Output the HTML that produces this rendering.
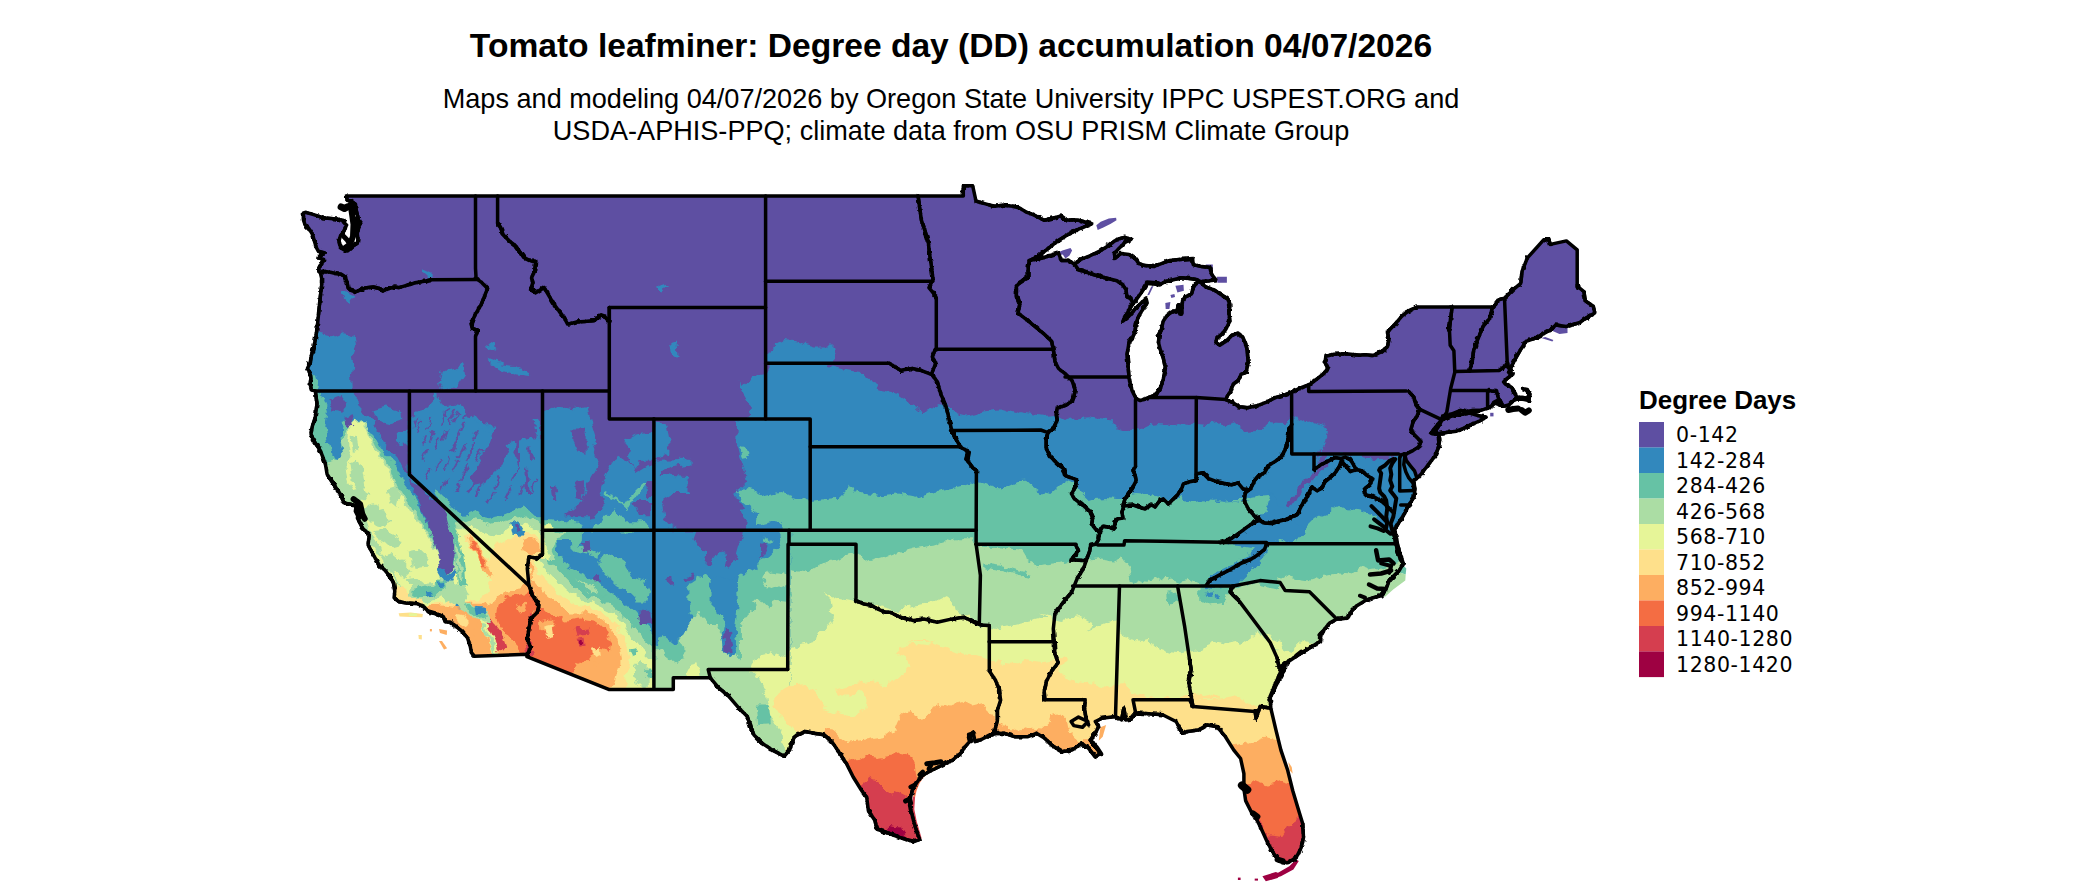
<!DOCTYPE html>
<html><head><meta charset="utf-8"><title>Tomato leafminer DD map</title>
<style>
html,body{margin:0;padding:0;background:#fff}
body{width:2100px;height:892px;overflow:hidden}
svg{display:block}
.t{font-family:"Liberation Sans",sans-serif;fill:#000}
.l{font-family:"DejaVu Sans",sans-serif;fill:#000}
.b{fill:none;stroke:#000;stroke-width:3.5;stroke-linejoin:round;stroke-linecap:round}
</style></head><body>
<svg width="2100" height="892" viewBox="0 0 2100 892">
<rect width="2100" height="892" fill="#fff"/>
<defs><clipPath id="land"><path d="M346.5 196.0 L963.3 195.9 L963.3 185.8 L972.7 185.8 L976.0 201.0 L984.5 203.6 L994.6 206.3 L1003.0 205.3 L1013.1 206.3 L1020.0 208.1 L1026.1 212.1 L1032.1 214.1 L1038.2 217.2 L1044.2 220.2 L1052.3 218.2 L1060.4 216.1 L1065.4 219.8 L1078.5 220.2 L1091.7 223.8 L1080.6 228.3 L1068.4 234.3 L1058.4 240.4 L1048.3 248.4 L1038.2 256.5 L1029.1 260.6 L1040.2 258.5 L1050.3 255.5 L1058.4 252.9 L1061.4 260.6 L1068.4 260.2 L1074.5 264.2 L1080.6 259.5 L1090.6 255.5 L1100.7 250.5 L1108.8 245.4 L1116.9 239.4 L1125.0 237.3 L1131.0 239.4 L1125.0 242.4 L1118.9 248.4 L1114.5 253.5 L1114.9 258.5 L1120.9 253.5 L1129.0 254.5 L1135.1 258.5 L1139.1 263.6 L1145.1 265.6 L1153.2 266.6 L1161.3 263.6 L1169.4 260.6 L1179.5 259.5 L1192.6 258.5 L1193.2 264.6 L1201.7 266.6 L1209.7 267.6 L1211.8 274.7 L1215.8 279.7 L1209.7 280.7 L1199.6 281.7 L1197.6 279.7 L1191.6 278.7 L1181.5 277.7 L1173.4 279.7 L1165.3 281.7 L1159.3 284.8 L1157.3 282.8 L1151.2 282.8 L1147.2 282.8 L1145.1 286.8 L1141.1 292.9 L1136.1 299.9 L1132.0 305.0 L1129.0 310.0 L1125.0 317.1 L1122.9 321.1 L1129.0 316.1 L1135.1 309.0 L1141.1 302.9 L1146.2 298.9 L1147.2 302.9 L1143.1 309.0 L1139.1 315.1 L1136.1 323.1 L1135.1 331.2 L1132.0 339.3 L1129.1 342.1 L1127.1 354.2 L1128.1 366.3 L1129.1 378.4 L1132.1 390.6 L1136.1 398.6 L1140.2 400.6 L1148.3 397.6 L1156.3 394.6 L1160.4 388.5 L1163.4 378.4 L1165.4 368.4 L1163.4 358.3 L1160.4 350.2 L1158.4 342.1 L1159.4 334.0 L1161.4 330.0 L1158.3 335.2 L1161.3 329.2 L1163.3 321.1 L1167.4 315.1 L1173.4 311.0 L1176.4 312.0 L1178.5 305.0 L1181.5 313.0 L1182.5 300.9 L1185.5 296.9 L1191.6 293.9 L1193.6 286.8 L1198.6 280.7 L1205.7 286.8 L1213.8 289.8 L1221.9 294.9 L1227.9 298.9 L1229.9 305.0 L1228.9 313.0 L1229.9 321.1 L1225.9 329.2 L1221.9 334.2 L1216.8 338.3 L1215.8 342.3 L1219.8 345.3 L1225.9 341.3 L1231.9 335.2 L1238.0 333.2 L1243.0 337.3 L1246.1 345.3 L1247.2 350.2 L1248.2 362.3 L1246.2 372.4 L1241.1 374.4 L1238.1 380.5 L1233.0 384.5 L1231.0 390.6 L1227.0 396.6 L1226.0 399.6 L1233.0 402.7 L1239.1 406.7 L1247.2 407.7 L1257.3 405.7 L1265.3 402.7 L1275.4 397.6 L1285.5 394.6 L1291.6 392.2 L1301.7 387.5 L1309.7 384.5 L1317.8 378.4 L1323.9 373.4 L1327.9 368.4 L1324.9 362.3 L1325.9 356.2 L1334.0 354.2 L1346.1 353.8 L1360.0 355.2 L1364.6 354.8 L1372.7 355.6 L1380.7 352.1 L1387.5 346.7 L1388.8 339.9 L1387.5 331.9 L1394.2 325.1 L1402.3 315.7 L1410.3 309.8 L1417.1 307.1 L1493.8 307.1 L1497.8 300.1 L1504.5 298.2 L1512.6 290.2 L1520.7 283.4 L1522.0 271.3 L1527.4 257.9 L1543.6 239.8 L1548.9 239.8 L1550.3 244.4 L1566.4 240.9 L1577.2 249.8 L1577.2 286.1 L1583.9 291.5 L1585.3 300.9 L1593.4 306.3 L1594.7 313.0 L1585.3 318.4 L1579.9 322.5 L1566.4 326.5 L1555.7 325.1 L1551.6 329.2 L1542.2 334.6 L1534.1 338.6 L1526.1 341.3 L1520.7 349.4 L1515.3 358.8 L1511.3 366.9 L1508.6 372.2 L1513.0 374.0 L1507.7 378.1 L1503.6 382.1 L1506.3 384.8 L1511.7 387.5 L1514.4 392.9 L1517.1 397.6 L1521.1 397.3 L1527.8 398.7 L1528.9 394.2 L1526.5 390.2 L1522.7 388.6 L1527.2 389.5 L1529.9 394.2 L1528.9 399.9 L1521.1 398.9 L1517.3 398.9 L1513.0 401.0 L1509.0 405.0 L1503.6 406.3 L1499.6 404.3 L1496.9 402.3 L1494.2 403.6 L1489.5 407.7 L1480.7 410.4 L1472.7 410.4 L1464.6 411.7 L1460.6 410.4 L1453.8 413.1 L1447.1 415.8 L1443.1 417.1 L1440.4 421.1 L1435.0 427.9 L1431.0 433.2 L1439.0 434.6 L1439.7 440.0 L1438.4 448.0 L1435.0 456.1 L1429.6 462.9 L1425.6 468.2 L1421.5 473.6 L1417.5 477.7 L1413.9 480.9 L1414.9 490.0 L1413.9 497.1 L1408.8 505.1 L1404.8 513.2 L1399.7 521.3 L1394.7 529.4 L1393.7 533.4 L1395.7 542.5 L1397.7 551.6 L1400.7 560.1 L1395.2 532.1 L1397.3 544.2 L1400.3 554.3 L1403.3 563.4 L1399.3 570.5 L1393.2 576.5 L1389.2 580.6 L1386.2 588.6 L1381.1 595.7 L1373.0 597.7 L1365.0 600.7 L1356.9 605.8 L1351.8 610.8 L1347.8 617.9 L1340.7 618.9 L1336.7 618.9 L1329.6 622.9 L1324.6 629.0 L1320.6 635.1 L1320.6 641.1 L1312.5 646.2 L1304.4 651.2 L1296.3 656.2 L1290.3 660.3 L1285.2 663.3 L1284.2 670.4 L1280.2 677.4 L1276.1 685.5 L1272.1 693.6 L1269.1 700.1 L1280.9 671.1 L1275.9 682.8 L1270.2 696.3 L1270.8 708.1 L1275.9 729.9 L1280.9 750.1 L1287.7 770.3 L1292.7 790.5 L1297.7 807.3 L1302.8 824.1 L1303.5 837.6 L1301.1 847.7 L1296.1 857.8 L1287.7 862.8 L1279.2 861.1 L1274.2 854.4 L1267.5 842.6 L1260.7 827.5 L1254.7 815.7 L1252.3 814.0 L1245.6 800.6 L1243.9 788.8 L1243.9 773.7 L1240.6 758.5 L1233.8 750.1 L1225.4 736.7 L1217.0 726.6 L1206.9 724.9 L1198.5 729.9 L1186.7 731.6 L1182.8 733.3 L1176.0 721.5 L1162.6 714.8 L1149.1 713.8 L1135.7 713.1 L1130.6 719.2 L1125.6 719.8 L1123.9 708.1 L1121.5 719.8 L1115.5 716.5 L1102.0 718.2 L1095.3 721.5 L1098.7 726.6 L1095.3 733.3 L1090.3 740.0 L1095.3 746.8 L1100.4 753.5 L1095.3 756.8 L1088.6 748.4 L1081.9 743.4 L1071.8 750.1 L1061.7 751.8 L1051.6 745.1 L1044.8 738.3 L1036.4 733.3 L1028.0 736.7 L1014.6 736.7 L1004.5 733.3 L995.4 733.5 L989.4 735.5 L981.3 739.5 L975.2 741.6 L973.2 732.9 L968.6 734.5 L969.6 741.6 L965.1 746.6 L961.1 752.7 L953.0 759.7 L945.0 763.8 L938.9 766.8 L932.9 769.8 L926.8 772.9 L920.7 776.9 L916.7 782.9 L912.7 789.0 L910.6 797.1 L909.6 805.1 L911.7 813.2 L913.7 821.3 L916.7 831.4 L919.7 839.5 L914.7 841.5 L906.6 839.5 L900.0 837.6 L886.9 832.5 L876.8 829.2 L875.1 820.8 L868.4 810.7 L866.7 797.2 L861.6 790.5 L853.2 777.0 L846.5 763.6 L839.8 753.5 L833.1 743.4 L824.6 735.0 L814.6 733.3 L804.5 731.6 L794.4 736.7 L789.3 750.1 L784.3 756.2 L772.5 750.1 L762.4 743.4 L754.0 735.0 L750.6 726.6 L747.3 716.5 L738.9 708.1 L728.8 696.3 L718.7 687.9 L710.3 677.8 L673.3 677.8 L673.3 689.6 L654.1 689.6 L609.3 689.6 L526.9 656.6 L527.3 654.3 L474.2 656.2 L471.5 652.9 L470.2 646.1 L467.5 638.0 L462.1 631.3 L455.4 625.9 L450.0 621.9 L445.3 621.9 L443.2 616.5 L437.9 614.5 L428.4 611.8 L424.4 607.1 L417.7 603.7 L406.9 603.1 L398.8 601.7 L394.1 597.7 L394.8 591.0 L393.5 582.9 L390.8 577.5 L385.4 570.8 L379.2 565.1 L372.5 553.3 L368.1 544.9 L369.2 534.8 L362.4 528.1 L357.4 518.0 L359.1 507.9 L352.3 504.6 L343.9 502.9 L340.6 494.5 L333.8 484.4 L327.1 474.3 L325.4 464.2 L320.4 450.7 L313.6 440.6 L311.0 433.9 L312.0 427.2 L315.3 417.1 L317.0 403.6 L315.3 390.9 L311.5 390.0 L310.2 384.4 L310.9 377.7 L309.5 372.3 L307.5 368.2 L310.2 362.9 L311.5 354.8 L314.2 345.4 L316.2 334.6 L317.6 323.8 L318.9 310.4 L320.3 296.9 L321.6 286.1 L321.6 278.1 L320.3 272.7 L318.9 271.5 L318.9 267.5 L321.6 263.4 L323.6 259.4 L318.9 258.0 L320.3 255.4 L324.3 252.7 L318.3 251.3 L316.2 247.3 L314.2 240.6 L312.2 233.8 L308.8 228.4 L304.8 224.4 L303.5 219.0 L303.5 213.0 L306.1 212.3 L310.2 213.6 L316.9 215.7 L322.3 217.7 L330.4 218.4 L338.4 219.3 L342.5 220.4 L344.5 223.1 L346.5 225.1 L345.2 228.4 L343.2 232.5 L340.5 235.8 L339.1 240.6 L339.8 244.6 L341.8 248.6 L345.2 250.6 L349.2 249.3 L353.2 245.9 L357.3 243.2 L358.0 239.2 L357.3 233.8 L358.6 227.1 L360.6 223.3 L358.6 220.4 L357.3 215.0 L355.9 208.9 L355.3 204.2 L351.9 201.5 L347.2 200.2 L346.5 195.9Z M1443.3 418.7 L1451.1 416.4 L1460.6 414.4 L1470.0 413.1 L1475.4 414.8 L1480.7 416.2 L1486.1 417.1 L1480.7 420.5 L1472.7 423.8 L1464.6 427.9 L1456.5 431.2 L1448.4 432.2 L1440.4 433.2 L1433.0 433.8 L1437.7 427.9 L1441.0 421.8Z"/></clipPath><filter id="rough" x="0" y="0" width="2100" height="892" filterUnits="userSpaceOnUse" color-interpolation-filters="sRGB"><feTurbulence type="fractalNoise" baseFrequency="0.11" numOctaves="3" seed="7" result="n"/><feDisplacementMap in="SourceGraphic" in2="n" scale="9" xChannelSelector="R" yChannelSelector="G"/></filter><filter id="rough2" x="0" y="0" width="2100" height="892" filterUnits="userSpaceOnUse"><feTurbulence type="fractalNoise" baseFrequency="0.22" numOctaves="2" seed="3" result="n"/><feDisplacementMap in="SourceGraphic" in2="n" scale="5" xChannelSelector="R" yChannelSelector="G"/></filter></defs>
<g clip-path="url(#land)"><g filter="url(#rough)">
<rect x="250" y="150" width="1400" height="760" fill="#5E4FA2"/>
<path d="M738.9 388.7 L752.3 376.9 L766.5 375.2 L766.5 358.4 L774.2 344.9 L784.3 339.9 L797.7 341.6 L814.6 346.6 L833.1 346.6 L835.4 358.4 L828.0 365.8 L841.5 369.2 L858.3 371.9 L871.8 380.3 L878.5 390.4 L895.3 393.7 L908.8 402.1 L922.2 412.2 L934.0 407.2 L945.8 402.1 L952.5 412.2 L966.0 415.6 L982.8 411.5 L999.6 409.5 L1016.4 413.9 L1020.0 412.1 L1032.1 414.1 L1044.2 416.1 L1056.3 415.1 L1066.4 420.2 L1076.5 418.2 L1088.6 417.2 L1100.7 419.2 L1110.8 420.2 L1116.9 427.2 L1127.0 430.3 L1135.5 428.3 L1135.1 427.9 L1144.2 428.9 L1152.3 424.9 L1160.4 423.9 L1170.5 424.9 L1178.5 422.9 L1186.6 424.9 L1196.3 423.9 L1206.8 424.9 L1216.9 422.9 L1225.0 425.9 L1235.1 422.9 L1241.1 426.9 L1245.1 431.9 L1257.3 430.9 L1265.3 426.9 L1269.4 422.9 L1281.5 423.9 L1287.5 418.8 L1291.6 416.8 L1297.6 418.8 L1305.7 422.9 L1313.8 421.8 L1321.9 424.9 L1327.9 430.9 L1325.9 443.0 L1319.8 451.1 L1315.8 457.2 L1321.1 454.1 L1357.4 454.1 L1361.5 458.5 L1373.6 459.5 L1387.7 458.5 L1398.8 454.5 L1405.9 458.5 L1409.9 468.6 L1414.0 476.7 L1432.1 476.7 L1620.0 480.0 L1620.0 900.0 L780.0 900.0 L781.5 560.1 L773.4 547.5 L761.3 541.5 L749.2 539.5 L746.2 530.4 L745.1 521.3 L741.1 511.2 L745.1 509.2 L741.1 501.1 L733.0 493.0 L741.1 487.0 L747.2 480.9 L744.1 468.8 L740.1 456.7 L736.1 440.6 L737.1 423.4 L747.2 418.4 L751.2 414.3 L749.2 406.2 L741.1 392.1 L739.1 380.0Z" fill="#3288BD"/>
<path d="M737.1 490.0 L749.2 489.0 L757.3 491.0 L761.3 497.1 L769.4 495.1 L781.5 493.0 L793.6 497.1 L810.1 501.1 L821.3 499.5 L838.1 497.8 L848.2 487.7 L858.3 492.8 L881.9 496.2 L898.7 494.5 L915.5 497.8 L932.3 492.8 L949.1 489.4 L966.0 486.1 L976.7 482.7 L989.5 486.1 L1003.0 489.4 L1019.8 481.0 L1026.1 480.7 L1030.1 484.8 L1040.2 491.8 L1050.3 493.9 L1056.3 488.8 L1060.4 484.8 L1068.4 480.7 L1078.5 484.8 L1080.6 492.9 L1088.6 500.9 L1094.7 498.9 L1104.8 497.9 L1114.9 498.9 L1122.9 498.9 L1129.0 494.9 L1137.1 493.9 L1149.2 494.9 L1161.3 496.9 L1169.4 500.9 L1177.4 499.9 L1181.5 496.9 L1187.5 501.9 L1195.6 504.0 L1205.7 500.9 L1217.8 501.9 L1231.9 500.9 L1244.1 502.9 L1250.1 498.9 L1260.0 498.9 L1210.1 500.9 L1220.2 499.9 L1230.3 500.9 L1240.4 502.9 L1246.4 496.9 L1256.5 494.9 L1266.6 493.9 L1280.7 513.0 L1296.9 529.2 L1300.9 533.2 L1307.0 525.1 L1313.0 519.1 L1321.1 515.1 L1329.2 512.0 L1337.3 505.0 L1345.3 509.0 L1357.4 510.0 L1369.6 513.0 L1375.6 517.1 L1381.7 529.2 L1391.8 534.2 L1401.9 529.2 L1620.0 560.0 L1620.0 900.0 L790.0 900.0 L781.5 560.1 L773.4 549.6 L765.3 541.5 L761.3 530.4 L757.3 525.3 L759.3 513.2 L753.2 509.2 L743.1 501.1 L737.1 490.0Z" fill="#66C2A5"/>
<path d="M1268.6 490.8 L1269.6 500.9 L1264.6 511.0 L1260.6 517.1 L1254.5 521.1 L1244.4 529.2 L1234.3 537.3 L1220.2 542.3 L1221.7 541.2 L1229.7 545.2 L1241.9 546.2 L1254.0 548.3 L1245.9 556.3 L1233.8 563.4 L1221.7 569.5 L1211.6 575.5 L1206.5 580.6 L1204.5 587.6 L1211.6 589.6 L1221.7 587.6 L1227.7 586.6 L1241.9 580.6 L1251.9 570.5 L1262.0 560.4 L1268.1 548.3 L1274.1 542.2 L1280.0 540.2 L1284.8 543.7 L1296.9 541.3 L1305.0 532.2 L1300.9 526.2 L1284.8 510.0Z" fill="#3288BD"/>
<path d="M1286.4 505.4 L1295.3 489.8 L1307.4 477.7 L1319.5 467.6 L1329.6 458.9 L1332.8 460.6 L1324.1 469.6 L1313.0 479.7 L1301.9 490.8 L1293.3 502.9 L1288.8 507.4Z" fill="#5E4FA2"/>
<path d="M1321.1 454.1 L1329.2 454.1 L1323.1 460.6 L1317.1 464.6Z" fill="#5E4FA2"/>
<path d="M788.3 568.5 L807.8 571.9 L821.3 563.4 L838.1 558.4 L855.6 553.3 L868.4 561.8 L885.2 556.7 L898.7 551.7 L915.5 548.3 L935.7 544.9 L955.9 538.2 L972.7 538.2 L978.2 546.4 L1000.4 548.4 L1020.6 550.5 L1026.6 560.6 L1036.7 566.6 L1044.8 564.6 L1060.9 562.6 L1073.0 560.6 L1081.1 562.6 L1089.2 560.6 L1101.3 558.5 L1113.4 560.6 L1121.5 556.5 L1129.6 566.6 L1131.6 580.7 L1141.7 584.8 L1149.0 578.5 L1157.1 576.5 L1163.1 580.6 L1171.2 578.5 L1181.3 582.6 L1191.4 580.6 L1199.5 584.6 L1199.5 600.7 L1207.5 604.8 L1221.7 602.8 L1227.7 596.7 L1229.7 589.6 L1249.9 582.6 L1262.0 585.6 L1272.1 587.6 L1280.0 588.6 L1280.2 578.5 L1286.2 575.5 L1296.3 578.5 L1310.5 580.6 L1320.6 577.5 L1330.6 575.5 L1340.7 573.5 L1350.8 574.5 L1360.9 567.4 L1369.0 570.5 L1381.1 568.4 L1401.3 560.4 L1413.4 560.4 L1620.0 600.0 L1620.0 900.0 L700.0 900.0 L700.0 640.0 L788.0 640.0Z" fill="#ABDDA4"/>
<path d="M1199.5 589.6 L1207.5 588.6 L1221.7 589.6 L1228.7 590.6 L1226.7 597.7 L1221.7 602.8 L1207.5 604.8 L1199.5 600.7Z" fill="#66C2A5"/>
<path d="M1205.5 592.7 L1211.6 592.3 L1212.6 596.7 L1206.5 597.1Z" fill="#3288BD"/>
<path d="M1215.6 594.7 L1220.7 594.3 L1221.1 598.3 L1216.0 598.7Z" fill="#3288BD"/>
<path d="M1167.2 592.7 L1177.3 590.6 L1179.3 600.7 L1171.2 604.8 L1168.2 600.7Z" fill="#66C2A5"/>
<path d="M984.2 562.6 L1000.4 564.6 L1016.5 569.6 L1030.6 573.7 L1028.6 576.7 L1014.5 573.7 L998.4 569.6 L984.2 567.6Z" fill="#66C2A5"/>
<path d="M745.0 700.1 L749.0 673.4 L753.0 661.3 L761.1 655.2 L769.2 653.2 L781.3 657.3 L790.4 651.2 L801.5 645.1 L815.6 641.1 L817.6 633.0 L829.7 625.0 L833.8 616.9 L831.8 600.7 L823.7 592.7 L838.1 598.8 L854.9 602.1 L875.1 605.5 L895.3 610.5 L915.5 605.5 L935.7 602.1 L949.1 595.4 L952.5 605.5 L972.7 620.6 L982.8 629.0 L980.9 625.6 L994.4 629.0 L1007.8 625.6 L1021.3 622.3 L1034.8 618.9 L1048.2 615.5 L1040.0 611.8 L1048.1 612.9 L1052.1 618.9 L1060.2 620.9 L1070.3 618.9 L1080.4 616.9 L1088.4 620.9 L1092.5 627.0 L1086.4 631.0 L1096.5 627.0 L1106.6 622.9 L1117.7 620.9 L1120.7 633.0 L1130.8 639.1 L1140.9 641.1 L1149.0 639.1 L1153.0 645.1 L1161.1 649.2 L1169.2 652.2 L1181.3 653.2 L1189.4 651.2 L1197.4 649.2 L1207.5 645.1 L1217.6 641.1 L1227.7 643.1 L1237.8 641.1 L1241.9 645.1 L1249.9 639.1 L1258.0 633.0 L1262.0 636.1 L1270.1 641.1 L1274.1 649.2 L1280.0 651.2 L1260.0 629.0 L1268.1 635.1 L1280.2 641.1 L1284.2 649.2 L1292.3 653.2 L1297.3 645.1 L1306.4 639.1 L1310.5 645.1 L1326.6 633.0 L1340.7 629.0 L1620.0 640.0 L1620.0 900.0 L700.0 900.0Z" fill="#E6F598"/>
<path d="M797.7 733.9 L792.7 728.8 L786.6 720.7 L778.5 714.7 L772.5 704.6 L780.6 690.5 L790.6 684.4 L804.8 683.4 L808.8 690.5 L816.9 690.5 L820.9 700.6 L825.0 708.6 L833.0 712.7 L841.1 714.7 L853.2 716.7 L865.3 708.6 L867.4 696.5 L859.3 690.5 L849.2 696.5 L841.1 696.5 L835.1 690.5 L845.1 686.4 L861.3 682.4 L873.4 680.4 L885.5 686.4 L891.6 680.4 L901.7 676.3 L909.7 666.2 L905.7 658.2 L895.6 652.1 L901.7 646.1 L913.8 644.0 L925.9 646.1 L934.0 640.0 L906.9 642.5 L923.7 639.1 L940.6 645.8 L957.4 652.6 L974.2 655.9 L989.3 659.3 L1001.1 662.6 L1014.6 664.3 L1028.0 659.3 L1040.0 662.3 L1050.1 661.3 L1060.2 659.3 L1066.2 657.3 L1060.2 673.4 L1070.3 679.5 L1080.4 681.5 L1092.5 683.5 L1106.6 687.5 L1116.7 685.5 L1124.8 683.5 L1128.8 689.6 L1136.9 695.6 L1153.0 697.6 L1169.2 698.6 L1181.3 696.6 L1190.4 693.6 L1201.5 695.6 L1211.6 693.6 L1221.7 697.6 L1192.9 699.7 L1209.7 699.7 L1233.2 696.3 L1240.6 699.7 L1257.4 706.4 L1270.8 703.0 L1314.6 703.0 L1620.0 700.0 L1620.0 900.0 L780.0 900.0Z" fill="#FEE08B"/>
<path d="M822.9 733.9 L822.9 728.8 L833.0 730.8 L841.1 736.9 L849.2 742.9 L861.3 740.9 L873.4 738.9 L885.5 736.9 L893.6 730.8 L897.6 720.7 L901.7 714.7 L909.7 710.6 L913.8 716.7 L921.9 718.7 L929.9 714.7 L934.0 706.6 L942.0 704.6 L952.1 706.6 L960.0 704.6 L965.1 702.2 L973.2 706.2 L981.3 704.2 L989.4 710.3 L995.4 720.4 L1001.5 726.4 L1013.6 727.4 L1021.7 730.5 L1029.7 727.4 L1041.9 728.4 L1049.9 720.4 L1051.9 714.3 L1060.0 712.3 L1068.1 720.4 L1070.1 732.5 L1080.0 740.6 L1088.6 740.0 L1102.0 750.1 L1115.5 750.1 L1182.8 750.1 L1216.4 750.1 L1243.3 741.7 L1247.3 743.4 L1264.1 736.7 L1280.9 740.0 L1314.6 740.0 L1620.0 760.0 L1620.0 900.0 L830.0 900.0Z" fill="#FDAE61"/>
<path d="M845.1 763.1 L847.2 761.1 L857.3 759.1 L865.3 755.1 L877.4 757.1 L889.6 755.1 L901.7 753.0 L909.7 755.1 L913.8 765.1 L915.8 777.3 L923.9 785.3 L942.0 781.3 L980.9 780.4 L1182.8 793.9 L1243.3 785.4 L1242.2 783.8 L1254.0 780.4 L1267.5 785.4 L1280.9 780.4 L1292.7 783.8 L1321.3 783.8 L1620.0 800.0 L1620.0 900.0 L830.0 900.0Z" fill="#F46D43"/>
<path d="M859.3 786.3 L861.3 785.3 L869.4 779.3 L877.4 781.3 L885.5 789.4 L891.6 795.4 L897.6 793.4 L905.7 797.4 L911.8 801.5 L931.9 801.5 L980.9 827.5 L1182.8 840.9 L1233.2 824.1 L1255.7 819.1 L1260.7 822.4 L1268.5 835.2 L1282.3 836.9 L1292.4 821.8 L1299.4 816.7 L1321.3 814.0 L1620.0 850.0 L1620.0 900.0 L830.0 900.0Z" fill="#D53E4F"/>
<path d="M886.7 825.8 L900.2 827.5 L903.5 837.6 L890.1 837.6Z" fill="#9E0142"/>
<path d="M1230.5 874.6 L1321.3 861.1 L1321.3 892.1 L1230.5 892.1Z" fill="#9E0142"/>
<path d="M316.9 333.2 L322.3 334.6 L334.4 337.3 L343.8 333.2 L354.6 335.9 L355.9 345.4 L351.9 356.1 L353.2 364.2 L351.9 376.3 L353.2 390.0 L303.5 390.0 L307.5 368.2Z" fill="#3288BD"/>
<path d="M305.1 380.0 L335.4 380.0 L340.5 387.6 L353.1 391.4 L363.2 412.8 L373.3 420.4 L378.3 430.5 L384.6 443.1 L390.9 450.6 L398.5 458.2 L403.5 468.3 L408.6 478.4 L416.2 488.5 L423.7 501.1 L430.0 516.2 L436.3 531.4 L441.4 544.0 L443.9 556.6 L441.4 569.2 L446.4 571.8 L451.5 564.2 L454.0 551.6 L451.5 536.4 L446.4 521.3 L438.9 511.2 L431.3 498.6 L441.4 506.2 L454.0 516.2 L590.0 516.2 L590.0 657.5 L365.7 657.5 L305.1 506.2Z" fill="#3288BD"/>
<path d="M373.3 410.3 L385.9 406.5 L401.0 410.3 L402.3 420.4 L390.9 424.2 L378.3 421.6Z" fill="#3288BD"/>
<path d="M396.0 431.7 L408.1 430.5 L408.1 445.6 L399.8 446.1 L394.7 439.3Z" fill="#3288BD"/>
<path d="M408.1 418.6 L413.5 416.0 L424.2 409.2 L433.6 398.5 L440.4 397.1 L444.4 405.2 L453.8 403.8 L464.6 406.5 L463.2 414.6 L472.7 417.3 L480.7 425.4 L490.2 424.0 L494.2 429.4 L491.5 441.5 L483.4 449.6 L480.7 460.4 L475.4 471.1 L470.0 479.2 L475.4 484.6 L486.1 481.9 L494.2 472.5 L502.3 465.7 L507.7 452.3 L511.7 444.2 L517.1 445.6 L514.4 455.0 L518.4 465.7 L523.8 471.1 L526.5 457.7 L534.6 449.6 L540.6 452.3 L540.6 559.9 L440.4 559.9 L408.1 476.5Z" fill="#3288BD"/>
<path d="M472.7 418.6 L475.4 416.0 L480.7 422.7 L487.5 423.4 L492.9 429.4 L491.5 433.4 L486.1 429.4 L479.4 428.1Z" fill="#3288BD"/>
<path d="M507.7 444.2 L511.7 441.5 L515.7 444.2 L513.0 448.2 L509.0 448.2Z" fill="#3288BD"/>
<path d="M534.6 420.0 L539.9 418.6 L539.9 449.6 L535.9 448.2 L536.6 433.4Z" fill="#3288BD"/>
<path d="M432.3 393.1 L436.3 392.4 L437.0 398.5 L433.6 399.1Z" fill="#3288BD"/>
<path d="M542.2 412.3 L556.3 406.2 L572.5 409.3 L586.6 406.2 L590.6 420.4 L596.7 440.6 L590.6 450.6 L598.7 460.7 L594.7 470.8 L586.6 485.0 L582.6 501.1 L572.5 509.2 L562.4 517.3 L560.4 527.4 L542.2 530.4 L520.0 530.4 L520.0 440.6 L528.1 438.5 L542.2 440.6Z" fill="#3288BD"/>
<path d="M622.9 440.6 L637.1 434.5 L652.2 432.5 L661.3 430.5 L669.4 440.6 L669.4 452.7 L661.3 456.7 L652.2 460.7 L641.1 460.7 L633.0 468.8 L629.0 456.7 L630.0 448.6Z" fill="#3288BD"/>
<path d="M608.8 468.8 L616.9 456.7 L629.0 460.7 L635.1 472.9 L645.1 466.8 L653.6 464.8 L661.3 460.7 L691.6 459.7 L691.6 464.8 L673.4 466.8 L661.3 468.8 L659.3 474.9 L687.5 476.9 L687.5 493.0 L673.4 493.0 L661.3 501.1 L665.3 521.3 L661.3 531.4 L588.6 531.4 L590.6 521.3 L600.7 509.2 L604.8 501.1 L600.7 493.0 L602.8 480.9Z" fill="#3288BD"/>
<path d="M542.2 530.5 L656.2 530.5 L693.6 530.5 L760.0 530.5 L760.0 560.4 L779.3 528.1 L790.4 531.1 L790.4 700.1 L640.0 700.1 L520.0 700.1 L520.0 580.6Z" fill="#3288BD"/>
<path d="M655.3 420.4 L666.4 423.4 L669.5 438.5 L668.4 446.6 L655.9 448.6Z" fill="#3288BD"/>
<path d="M655.9 460.7 L670.5 464.8 L680.6 458.7 L689.6 459.7 L678.5 462.8 L668.4 468.8 L656.3 470.8Z" fill="#3288BD"/>
<path d="M656.3 474.9 L668.4 474.9 L676.5 478.9 L687.6 478.9 L680.6 489.0 L670.5 493.0 L660.4 493.0 L656.3 501.1 L660.4 513.2 L670.5 525.3 L680.6 530.4 L655.9 530.4Z" fill="#3288BD"/>
<path d="M704.8 535.4 L714.9 541.5 L729.0 541.5 L725.0 551.6 L716.9 555.6 L708.8 549.6Z" fill="#3288BD"/>
<path d="M757.3 525.3 L769.4 522.3 L781.5 524.3 L784.5 530.4 L781.5 539.5 L769.4 541.5 L759.3 533.4Z" fill="#3288BD"/>
<path d="M486.9 343.3 L493.6 344.9 L495.3 350.0 L488.6 348.3Z" fill="#3288BD"/>
<path d="M488.6 358.4 L502.0 363.4 L515.5 365.1 L528.9 371.9 L530.6 376.9 L515.5 375.2 L502.0 370.2 L490.3 363.4Z" fill="#3288BD"/>
<path d="M438.1 385.3 L441.5 371.9 L454.9 368.5 L463.3 361.8 L465.0 375.2 L458.3 385.3 L448.2 390.4Z" fill="#3288BD"/>
<path d="M422.0 268.2 L428.0 270.9 L434.8 277.7 L429.7 278.3 L423.0 272.6Z" fill="#3288BD"/>
<path d="M656.8 287.7 L666.9 283.7 L669.6 286.1 L660.2 291.1Z" fill="#3288BD"/>
<path d="M670.2 343.3 L676.3 341.6 L677.6 356.7 L671.9 355.0Z" fill="#3288BD"/>
<path d="M341.8 292.9 L346.5 292.2 L353.2 295.6 L349.2 302.3 L345.2 298.9Z" fill="#3288BD"/>
<path d="M314.0 392.6 L322.8 397.7 L327.8 410.3 L325.3 425.4 L327.8 440.6 L330.4 455.7 L337.9 460.7 L344.2 453.2 L340.5 438.0 L343.0 422.9 L350.6 417.8 L358.1 425.4 L365.7 430.5 L373.3 434.2 L379.6 445.6 L387.1 455.7 L394.7 463.3 L399.8 473.4 L404.8 483.4 L412.4 493.5 L419.9 506.2 L426.2 521.3 L432.6 536.4 L437.6 549.0 L440.1 561.7 L437.6 571.8 L441.4 579.3 L451.5 581.9 L451.5 657.5 L365.7 657.5 L305.1 506.2 L310.2 430.5Z" fill="#66C2A5"/>
<path d="M312.2 376.3 L316.9 376.3 L318.9 383.0 L318.3 390.0 L311.5 390.0Z" fill="#66C2A5"/>
<path d="M434.2 487.9 L445.6 498.0 L455.7 510.6 L463.3 515.7 L475.9 510.6 L488.5 518.2 L501.1 515.7 L513.7 510.6 L523.8 505.6 L533.9 513.2 L542.7 520.7 L551.6 523.3 L564.2 525.8 L571.8 520.7 L581.9 525.8 L581.9 538.4 L576.8 548.5 L566.7 551.0 L561.7 558.6 L566.7 566.2 L576.8 571.2 L586.9 576.2 L597.0 581.3 L607.1 591.4 L622.2 601.5 L634.8 611.6 L642.4 621.7 L652.5 631.8 L653.6 645.1 L661.3 649.2 L669.4 661.3 L661.3 721.9 L520.0 721.9 L380.0 692.3 L430.5 616.6 L443.1 581.3 L449.4 540.9 L443.1 523.3Z" fill="#66C2A5"/>
<path d="M599.5 558.6 L612.1 553.5 L622.2 561.1 L632.3 576.2 L644.9 581.3 L650.0 591.4 L647.5 601.5 L637.4 601.5 L627.3 591.4 L617.2 586.3 L607.1 576.2 L599.5 566.2Z" fill="#66C2A5"/>
<path d="M556.6 535.9 L566.7 539.7 L576.8 546.0 L589.4 548.5 L599.5 552.3 L598.3 556.1 L586.9 553.5 L574.3 551.0 L564.2 546.0 L556.6 540.9Z" fill="#66C2A5"/>
<path d="M542.2 519.3 L552.3 519.3 L566.4 521.3 L568.4 530.4 L542.2 530.4Z" fill="#66C2A5"/>
<path d="M604.8 517.3 L614.9 509.2 L625.0 521.3 L641.1 521.3 L649.2 525.3 L649.2 531.4 L590.6 531.4Z" fill="#66C2A5"/>
<path d="M606.8 493.0 L616.9 497.1 L625.0 505.1 L633.0 493.0 L641.1 485.0 L647.2 481.9 L648.2 485.0 L642.1 489.0 L635.1 497.1 L627.0 510.2 L616.9 501.1 L606.8 497.1Z" fill="#66C2A5"/>
<path d="M688.4 588.6 L692.5 582.6 L698.5 578.5 L704.6 574.5 L710.6 580.6 L712.7 590.6 L710.6 606.8 L720.7 614.9 L724.8 620.9 L722.8 633.0 L728.8 657.3 L734.9 653.2 L736.9 641.1 L734.9 629.0 L732.9 616.9 L734.9 604.8 L736.9 590.6 L738.9 576.5 L747.0 572.5 L755.1 568.4 L761.1 560.4 L769.2 556.3 L777.3 548.3 L781.3 540.2 L779.3 531.1 L790.4 531.1 L790.4 700.1 L653.7 700.1 L653.7 649.2 L662.2 635.1 L674.3 645.1 L680.4 639.1 L686.4 629.0 L692.5 616.9 L688.4 604.8Z" fill="#66C2A5"/>
<path d="M740.1 447.6 L746.2 449.6 L749.2 456.7 L744.1 457.7Z" fill="#66C2A5"/>
<path d="M349.3 427.9 L355.6 417.8 L364.4 424.2 L370.7 436.8 L377.0 450.6 L385.9 462.0 L392.2 473.4 L397.2 486.0 L404.8 498.6 L413.6 511.2 L422.5 525.1 L432.6 540.2 L440.1 556.6 L441.4 571.8 L446.4 581.9 L456.5 586.9 L456.5 657.5 L365.7 657.5 L332.9 480.9 L325.3 473.4 L327.8 463.3 L337.9 460.7 L344.2 453.2 L341.7 440.6Z" fill="#ABDDA4"/>
<path d="M450.6 523.3 L463.3 523.3 L475.9 518.2 L488.5 525.8 L501.1 523.3 L513.7 518.2 L523.8 515.7 L533.9 520.7 L542.7 528.3 L556.6 532.1 L568.0 528.3 L556.6 540.9 L551.6 551.0 L556.6 563.6 L566.7 571.2 L576.8 578.8 L589.4 586.3 L602.0 596.4 L617.2 606.5 L629.8 616.6 L639.9 629.2 L650.0 641.9 L649.2 661.3 L653.6 665.3 L653.6 721.9 L520.0 721.9 L380.0 692.3 L430.5 616.6 L445.6 581.3 L455.7 558.6 L453.2 540.9Z" fill="#ABDDA4"/>
<path d="M653.7 649.2 L662.2 649.2 L670.3 662.3 L683.4 659.3 L683.4 649.2 L680.4 639.1 L692.5 616.9 L700.6 612.9 L706.6 625.0 L716.7 625.0 L722.8 633.0 L724.8 649.2 L728.8 657.3 L734.9 653.2 L740.9 659.3 L740.9 625.0 L747.0 614.9 L757.1 608.8 L753.0 600.7 L761.1 600.7 L769.2 608.8 L773.2 600.7 L788.4 602.8 L790.4 588.6 L790.4 700.1 L653.7 700.1Z" fill="#ABDDA4"/>
<path d="M761.1 576.5 L769.2 572.5 L785.3 574.5 L786.3 584.6 L777.3 588.6 L765.1 584.6Z" fill="#ABDDA4"/>
<path d="M745.0 700.1 L749.0 673.4 L753.0 661.3 L761.1 655.2 L769.2 653.2 L781.3 657.3 L790.4 651.2 L790.4 700.1Z" fill="#E6F598"/>
<path d="M797.7 733.9 L792.7 728.8 L786.6 720.7 L778.5 714.7 L772.5 704.6 L780.6 690.5 L790.6 684.4 L804.8 683.4 L808.8 690.5 L808.8 733.9Z" fill="#FEE08B"/>
<path d="M706.9 672.1 L735.5 672.1 L755.7 672.7 L765.8 692.9 L769.1 713.1 L782.6 733.3 L784.3 756.2 L772.5 750.1 L762.4 743.4 L754.0 735.0 L750.6 726.6 L747.3 716.5 L738.9 708.1 L728.8 696.3 L718.7 687.9 L710.3 677.8Z" fill="#ABDDA4"/>
<path d="M349.3 430.5 L355.6 417.8 L363.2 425.4 L368.2 438.0 L375.8 453.2 L383.4 463.3 L390.9 475.9 L396.0 488.5 L403.5 501.1 L411.1 513.7 L421.2 526.3 L431.3 541.5 L438.9 556.6 L441.4 571.8 L438.9 584.4 L431.3 594.5 L421.2 599.5 L408.6 599.5 L401.0 589.4 L396.0 576.8 L390.9 564.2 L380.8 554.1 L378.3 541.5 L370.7 531.4 L368.2 521.3 L365.7 511.2 L360.6 501.1 L353.1 491.0 L348.0 480.9 L345.5 468.3 L350.6 455.7 L348.0 443.1Z" fill="#E6F598"/>
<path d="M365.7 544.0 L373.3 546.5 L383.4 561.7 L393.4 576.8 L401.0 591.9 L408.6 602.0 L421.2 602.0 L441.4 607.1 L441.4 657.5 L398.5 657.5 L394.7 594.5 L387.1 574.3 L378.3 561.7 L370.7 554.1Z" fill="#E6F598"/>
<path d="M455.7 528.3 L465.8 528.3 L473.4 525.8 L480.9 533.4 L491.0 535.9 L501.1 533.4 L511.2 525.8 L521.3 523.3 L531.4 525.8 L541.5 533.4 L546.5 546.0 L549.0 558.6 L556.6 568.7 L566.7 576.2 L576.8 583.8 L589.4 591.4 L602.0 601.5 L614.7 611.6 L627.3 621.7 L637.4 634.3 L647.5 646.9 L641.1 661.3 L652.2 669.4 L652.2 721.9 L520.0 721.9 L380.0 692.3 L405.2 616.6 L430.5 601.5 L450.6 588.9 L458.2 571.2 L460.7 551.0Z" fill="#E6F598"/>
<path d="M542.2 524.3 L550.3 524.3 L554.3 530.4 L542.2 530.4Z" fill="#E6F598"/>
<path d="M686.4 673.4 L690.5 665.3 L698.5 663.3 L700.6 675.4 L688.4 676.4Z" fill="#E6F598"/>
<path d="M363.6 506.9 L374.4 504.2 L383.8 511.0 L389.2 520.4 L383.8 527.1 L374.4 524.4 L367.7 517.7Z" fill="#ABDDA4"/>
<path d="M374.4 531.1 L386.5 529.8 L397.3 536.5 L402.7 544.6 L393.2 547.3 L383.8 543.2Z" fill="#ABDDA4"/>
<path d="M383.8 555.4 L393.2 552.7 L402.7 560.7 L410.7 571.5 L405.4 576.9 L394.6 571.5 L387.9 563.4Z" fill="#ABDDA4"/>
<path d="M350.2 490.8 L361.0 488.1 L370.4 493.5 L365.0 500.2 L355.6 498.8Z" fill="#ABDDA4"/>
<path d="M405.4 578.2 L416.1 576.9 L424.2 583.6 L418.8 587.7 L409.4 585.0Z" fill="#ABDDA4"/>
<path d="M386.5 488.1 L394.6 485.4 L400.0 496.1 L397.3 506.9 L390.6 501.5Z" fill="#ABDDA4"/>
<path d="M349.3 463.3 L358.1 460.7 L363.2 473.4 L365.7 488.5 L358.1 491.0 L351.8 480.9Z" fill="#ABDDA4"/>
<path d="M350.6 438.0 L356.9 436.8 L359.4 450.6 L353.1 453.2Z" fill="#ABDDA4"/>
<path d="M498.6 543.4 L508.7 538.4 L518.8 533.4 L528.9 530.8 L537.7 535.9 L541.5 546.0 L544.0 558.6 L551.6 573.7 L561.7 581.3 L574.3 588.9 L586.9 596.4 L599.5 606.5 L612.1 616.6 L622.2 629.2 L632.3 641.9 L642.4 654.5 L650.0 667.1 L655.0 692.3 L380.0 692.3 L410.3 614.1 L430.5 604.0 L445.6 601.5 L465.8 601.5 L480.9 599.0 L488.5 591.4 L491.0 581.3 L488.5 566.2 L491.0 551.0Z" fill="#FEE08B"/>
<path d="M464.5 534.6 L472.1 533.9 L480.9 548.5 L491.0 566.2 L498.6 581.3 L491.0 583.8 L483.4 568.7 L474.6 553.5 L467.0 540.9Z" fill="#FEE08B"/>
<path d="M498.6 596.4 L511.2 591.4 L521.3 586.3 L528.9 581.3 L536.4 588.9 L546.5 593.9 L561.7 596.4 L574.3 601.5 L586.9 609.0 L599.5 619.1 L607.1 631.8 L614.7 646.9 L619.7 665.1 L629.8 692.3 L455.7 692.3 L430.5 606.5 L443.1 614.1 L455.7 606.5 L465.8 602.7 L480.9 602.7 L491.0 605.3Z" fill="#FDAE61"/>
<path d="M521.3 540.9 L531.4 537.1 L537.7 540.9 L539.0 551.0 L531.4 554.8 L523.8 551.0Z" fill="#FDAE61"/>
<path d="M498.6 601.5 L511.2 596.4 L523.8 593.9 L531.4 588.9 L536.4 601.5 L541.5 611.6 L556.6 616.6 L571.8 616.6 L586.9 621.7 L597.0 631.8 L604.6 646.9 L607.1 665.1 L614.7 692.3 L528.9 692.3 L521.3 649.4 L511.2 639.3 L501.1 626.7 L496.1 614.1Z" fill="#F46D43"/>
<path d="M467.0 535.9 L473.4 537.1 L480.9 551.0 L488.5 566.2 L493.5 576.2 L488.5 577.5 L480.9 566.2 L473.4 551.0Z" fill="#FDAE61"/>
<path d="M469.6 539.7 L473.4 540.4 L479.7 552.3 L486.0 566.2 L482.2 566.2 L475.9 553.5Z" fill="#F46D43"/>
<path d="M483.4 616.6 L491.0 619.1 L501.1 631.8 L506.2 646.9 L503.6 652.4 L493.5 650.7 L488.5 634.3Z" fill="#D53E4F"/>
<path d="M528.9 616.6 L533.4 616.6 L534.4 631.8 L529.4 631.8Z" fill="#D53E4F"/>
<path d="M516.2 604.0 L523.8 602.7 L526.3 611.6 L518.8 614.1Z" fill="#FDAE61"/>
<path d="M411.0 586.9 L420.4 584.2 L431.1 582.9 L440.6 580.2 L444.6 585.6 L443.2 593.6 L436.5 599.0 L425.8 600.4 L415.0 599.0 L409.6 595.0Z" fill="#ABDDA4"/>
<path d="M413.6 588.9 L423.1 586.9 L433.8 585.6 L440.6 584.2 L442.6 588.9 L437.9 593.6 L428.4 597.0 L417.7 597.0 L413.0 593.6Z" fill="#66C2A5"/>
<path d="M425.1 591.2 L433.2 590.7 L433.8 596.1 L425.8 596.6Z" fill="#3288BD"/>
<path d="M441.9 583.5 L452.7 582.2 L463.4 586.9 L467.5 596.3 L463.4 604.4 L452.7 605.1 L444.6 600.4 L441.2 592.3Z" fill="#ABDDA4"/>
<path d="M394.1 586.9 L401.5 587.6 L411.0 595.0 L420.4 600.4 L424.4 606.4 L417.7 603.7 L406.9 603.1 L398.8 601.7 L394.1 597.7Z" fill="#FEE08B"/>
<path d="M424.4 606.4 L433.8 605.1 L444.6 605.8 L455.4 607.1 L466.1 612.5 L474.2 616.5 L476.9 624.6 L474.2 635.4 L476.9 646.1 L478.2 654.2 L474.2 656.2 L471.5 652.9 L470.2 646.1 L467.5 638.0 L462.1 631.3 L455.4 625.9 L450.0 621.9 L445.3 621.9 L443.2 616.5 L437.9 614.5 L428.4 611.8Z" fill="#FDAE61"/>
<path d="M455.4 613.8 L463.4 615.2 L468.8 621.9 L466.1 627.3 L459.4 623.2Z" fill="#FEE08B"/>
<path d="M474.2 605.8 L483.6 606.4 L483.9 613.8 L474.9 613.6Z" fill="#3288BD"/>
<path d="M477.6 607.8 L482.3 608.2 L482.3 612.5 L478.0 612.2Z" fill="#5E4FA2"/>
<path d="M455.4 603.7 L463.4 604.1 L463.7 607.4 L455.6 607.1Z" fill="#3288BD"/>
<path d="M560.4 560.0 L570.5 572.1 L580.6 582.2 L592.7 592.3 L604.8 594.3 L616.9 602.4 L629.0 612.5 L639.1 622.6 L647.2 630.6 L653.6 634.7 L653.6 691.2 L608.8 691.2 L570.5 679.1 L524.0 658.9 L525.0 656.9 L527.1 650.8 L531.1 644.8 L529.1 638.7 L528.1 630.6 L531.1 620.6 L535.1 612.5 L540.2 607.4 L536.1 598.4 L532.1 586.2 L529.1 572.1 L526.1 560.0Z" fill="#66C2A5"/>
<path d="M548.3 560.0 L560.4 574.1 L572.5 586.2 L586.6 596.3 L598.7 598.4 L612.9 606.4 L627.0 618.5 L637.1 630.6 L645.1 640.7 L653.6 646.8 L653.6 691.2 L608.8 691.2 L570.5 679.1 L524.0 658.9 L525.0 656.9 L527.1 650.8 L531.1 644.8 L529.1 638.7 L528.1 630.6 L531.1 620.6 L535.1 612.5 L540.2 607.4 L536.1 598.4 L532.1 586.2 L529.1 572.1 L526.1 560.0Z" fill="#ABDDA4"/>
<path d="M538.2 560.0 L552.3 576.1 L566.4 590.3 L580.6 600.4 L592.7 602.4 L608.8 610.5 L622.9 622.6 L633.0 636.7 L641.1 648.8 L649.2 656.9 L653.6 660.9 L653.6 691.2 L608.8 691.2 L570.5 679.1 L524.0 658.9 L525.0 656.9 L527.1 650.8 L531.1 644.8 L529.1 638.7 L528.1 630.6 L531.1 620.6 L535.1 612.5 L540.2 607.4 L536.1 598.4 L532.1 586.2 L529.1 572.1 L526.1 560.0Z" fill="#E6F598"/>
<path d="M633.0 665.0 L641.1 660.9 L649.2 669.0 L651.2 681.1 L643.1 689.2 L635.1 681.1Z" fill="#ABDDA4"/>
<path d="M534.1 560.0 L534.1 568.1 L546.2 580.2 L560.4 594.3 L574.5 604.4 L588.6 606.4 L604.8 614.5 L616.9 624.6 L625.0 640.7 L629.0 656.9 L627.0 673.0 L625.0 690.2 L608.8 691.2 L570.5 679.1 L524.0 658.9 L525.0 656.9 L527.1 650.8 L531.1 644.8 L529.1 638.7 L528.1 630.6 L531.1 620.6 L535.1 612.5 L540.2 607.4 L536.1 598.4 L532.1 586.2 L529.1 572.1 L526.1 560.0Z" fill="#FEE08B"/>
<path d="M530.1 560.0 L532.1 578.2 L542.2 590.3 L556.3 602.4 L570.5 612.5 L584.6 612.5 L600.7 618.5 L612.9 628.6 L618.9 644.8 L620.9 660.9 L616.9 673.0 L614.9 681.1 L608.8 690.2 L570.5 679.1 L524.0 658.9 L525.0 656.9 L527.1 650.8 L531.1 644.8 L529.1 638.7 L528.1 630.6 L531.1 620.6 L535.1 612.5 L540.2 607.4 L536.1 598.4 L532.1 586.2 L529.1 572.1 L526.1 560.0Z" fill="#FDAE61"/>
<path d="M528.1 600.4 L540.2 608.4 L552.3 614.5 L566.4 620.6 L580.6 618.5 L592.7 620.6 L604.8 628.6 L610.8 640.7 L608.8 650.8 L600.7 648.8 L592.7 652.9 L586.6 660.9 L576.5 665.0 L572.5 673.0 L570.5 679.1 L524.0 658.9 L525.0 656.9 L527.1 650.8 L531.1 644.8 L529.1 638.7 L528.1 630.6 L531.1 620.6 L535.1 612.5 L540.2 607.4 L536.1 600.4Z" fill="#F46D43"/>
<path d="M590.6 654.9 L600.7 652.9 L602.8 660.9 L594.7 665.0Z" fill="#FDAE61"/>
<path d="M592.7 648.8 L599.7 647.8 L600.7 654.9 L594.7 656.9Z" fill="#FEE08B"/>
<path d="M574.5 628.6 L588.6 627.6 L589.6 633.7 L576.5 634.7Z" fill="#D53E4F"/>
<path d="M576.5 637.7 L584.6 636.7 L585.6 646.8 L578.5 647.8Z" fill="#D53E4F"/>
<path d="M578.9 639.7 L582.6 639.3 L583.0 644.8 L579.5 645.2Z" fill="#9E0142"/>
<path d="M526.1 644.8 L532.1 642.8 L534.1 654.9 L528.1 656.9Z" fill="#D53E4F"/>
<path d="M540.2 620.6 L550.3 618.5 L554.3 626.6 L546.2 632.7 L540.2 628.6Z" fill="#FDAE61"/>
<path d="M544.2 626.6 L552.3 624.6 L554.3 634.7 L546.2 636.7Z" fill="#FEE08B"/>
<path d="M633.0 648.8 L638.1 649.8 L636.1 654.9Z" fill="#66C2A5"/>
<path d="M645.1 673.0 L649.2 674.0 L648.2 679.1Z" fill="#3288BD"/>
<path d="M353.1 391.4 L408.6 391.4 L408.6 477.1 L421.2 488.5 L431.3 498.6 L443.9 506.2 L449.0 518.8 L451.5 531.4 L454.0 544.0 L454.5 556.6 L451.5 568.0 L447.7 574.3 L443.9 573.0 L441.4 566.7 L438.9 556.6 L435.1 544.0 L430.0 531.4 L426.2 518.8 L421.2 506.2 L413.6 488.5 L408.6 478.4 L403.5 468.3 L398.5 458.2 L390.9 450.6 L384.6 443.1 L378.3 430.5 L373.3 420.4 L363.2 412.8Z" fill="#5E4FA2"/>
<path d="M373.3 410.3 L385.9 406.5 L401.0 410.3 L402.3 420.4 L390.9 424.2 L378.3 421.6Z" fill="#3288BD"/>
<path d="M396.0 431.7 L408.1 430.5 L408.1 445.6 L399.8 446.1 L394.7 439.3Z" fill="#3288BD"/>
<path d="M330.4 397.7 L340.5 395.1 L346.8 404.0 L341.7 412.8 L332.9 410.3Z" fill="#5E4FA2"/>
<path d="M344.2 417.8 L351.8 415.3 L354.3 425.4 L348.0 429.2Z" fill="#5E4FA2"/>
<path d="M443.9 506.2 L451.5 516.2 L457.8 531.4 L462.8 551.6 L465.4 571.8 L466.6 586.9 L459.0 586.9 L457.8 571.8 L455.3 554.1 L452.7 536.4 L447.7 521.3Z" fill="#66C2A5"/>
<path d="M456.5 541.5 L460.3 556.6 L462.8 576.8 L460.3 581.9 L458.5 566.7 L455.3 551.6Z" fill="#ABDDA4"/>
<path d="M440.9 566.7 L447.7 575.5 L454.0 568.0 L457.5 572.3 L452.0 582.4 L444.4 582.4 L438.4 572.3Z" fill="#3288BD"/>
<path d="M416.1 432.1 L417.8 432.6 L421.8 421.3 L420.2 420.8Z" fill="#5E4FA2"/>
<path d="M426.9 429.4 L428.5 429.9 L433.2 417.3 L431.6 416.8Z" fill="#5E4FA2"/>
<path d="M439.0 426.7 L440.9 427.3 L445.6 411.9 L443.7 411.4Z" fill="#5E4FA2"/>
<path d="M448.4 424.0 L450.3 424.6 L456.4 409.2 L454.5 408.7Z" fill="#5E4FA2"/>
<path d="M449.8 450.9 L451.7 451.5 L459.1 437.5 L457.2 436.9Z" fill="#5E4FA2"/>
<path d="M457.9 436.1 L459.5 436.7 L465.5 424.0 L463.9 423.5Z" fill="#5E4FA2"/>
<path d="M464.6 461.7 L466.7 462.2 L475.5 442.9 L473.3 442.3Z" fill="#5E4FA2"/>
<path d="M459.2 480.5 L461.4 481.1 L470.1 464.4 L468.0 463.9Z" fill="#5E4FA2"/>
<path d="M444.4 469.8 L446.0 470.3 L450.7 456.3 L449.1 455.8Z" fill="#5E4FA2"/>
<path d="M475.4 494.0 L477.5 494.5 L486.3 477.9 L484.1 477.3Z" fill="#5E4FA2"/>
<path d="M503.6 500.7 L505.5 501.3 L512.9 485.9 L511.0 485.4Z" fill="#5E4FA2"/>
<path d="M531.9 491.3 L533.5 491.8 L538.2 477.9 L536.6 477.3Z" fill="#5E4FA2"/>
<path d="M433.6 449.6 L435.5 450.1 L440.2 438.8 L438.4 438.3Z" fill="#5E4FA2"/>
<path d="M421.5 460.4 L423.4 460.9 L427.5 449.6 L425.6 449.1Z" fill="#5E4FA2"/>
<path d="M486.1 503.4 L488.3 504.0 L495.0 491.3 L492.9 490.8Z" fill="#5E4FA2"/>
<path d="M518.4 495.3 L520.3 495.9 L525.0 484.6 L523.1 484.0Z" fill="#5E4FA2"/>
<path d="M494.2 487.3 L496.1 487.8 L501.5 476.5 L499.6 476.0Z" fill="#5E4FA2"/>
<path d="M440.4 490.0 L442.3 490.5 L447.6 479.2 L445.8 478.7Z" fill="#5E4FA2"/>
<path d="M420.2 444.2 L422.3 444.7 L427.0 434.8 L424.9 434.3Z" fill="#5E4FA2"/>
<path d="M429.6 441.5 L431.5 442.1 L435.5 432.1 L433.6 431.6Z" fill="#5E4FA2"/>
<path d="M440.4 441.5 L442.8 442.1 L448.8 429.4 L446.4 428.9Z" fill="#5E4FA2"/>
<path d="M456.5 457.7 L458.7 458.2 L465.4 445.6 L463.2 445.0Z" fill="#5E4FA2"/>
<path d="M470.0 441.5 L472.4 442.1 L479.1 429.4 L476.7 428.9Z" fill="#5E4FA2"/>
<path d="M475.4 460.4 L477.5 460.9 L482.9 449.6 L480.7 449.1Z" fill="#5E4FA2"/>
<path d="M451.1 471.1 L453.3 471.7 L459.3 460.4 L457.2 459.8Z" fill="#5E4FA2"/>
<path d="M433.6 471.1 L435.5 471.7 L440.9 460.4 L439.0 459.8Z" fill="#5E4FA2"/>
<path d="M424.2 479.2 L426.1 479.7 L430.8 468.4 L428.9 467.9Z" fill="#5E4FA2"/>
<path d="M467.3 492.7 L469.4 493.2 L475.5 481.9 L473.3 481.3Z" fill="#5E4FA2"/>
<path d="M453.8 492.7 L455.7 493.2 L461.1 483.2 L459.2 482.7Z" fill="#5E4FA2"/>
<path d="M511.7 479.2 L513.8 479.7 L519.2 468.4 L517.1 467.9Z" fill="#5E4FA2"/>
<path d="M523.8 487.3 L525.7 487.8 L529.7 477.9 L527.8 477.3Z" fill="#5E4FA2"/>
<path d="M499.6 465.7 L501.5 466.3 L506.2 457.7 L504.3 457.1Z" fill="#5E4FA2"/>
<path d="M444.4 416.0 L446.3 416.5 L450.3 407.9 L448.4 407.3Z" fill="#5E4FA2"/>
<path d="M453.8 420.0 L455.4 420.5 L459.5 411.9 L457.9 411.4Z" fill="#5E4FA2"/>
<path d="M413.5 425.4 L415.1 425.9 L418.4 418.6 L416.8 418.1Z" fill="#5E4FA2"/>
<path d="M461.9 418.6 L463.5 419.2 L467.6 411.9 L465.9 411.4Z" fill="#5E4FA2"/>
<path d="M511.2 523.3 L520.0 520.7 L526.3 530.8 L521.3 537.1 L513.7 533.4Z" fill="#3288BD"/>
<path d="M515.0 525.8 L520.0 524.5 L522.6 530.8 L517.5 532.1Z" fill="#5E4FA2"/>
<path d="M572.5 428.4 L586.6 428.4 L586.6 452.7 L578.5 450.6 L573.5 440.6Z" fill="#5E4FA2"/>
<path d="M576.5 480.9 L584.6 478.9 L582.6 501.1 L576.5 499.1Z" fill="#5E4FA2"/>
<path d="M550.3 485.0 L555.3 485.0 L557.3 501.1 L552.3 501.1Z" fill="#5E4FA2"/>
<path d="M647.2 480.9 L653.6 479.9 L653.6 497.1 L648.2 497.1Z" fill="#5E4FA2"/>
<path d="M633.0 501.1 L651.2 501.1 L651.2 515.2 L639.1 515.2Z" fill="#5E4FA2"/>
<path d="M528.1 446.6 L532.1 446.6 L534.1 460.7 L529.1 460.7Z" fill="#5E4FA2"/>
<path d="M524.0 468.8 L528.1 468.8 L531.1 493.0 L526.1 493.0Z" fill="#5E4FA2"/>
<path d="M581.9 540.9 L589.4 540.9 L590.7 551.0 L583.1 552.3Z" fill="#5E4FA2"/>
<path d="M591.9 576.2 L600.0 575.7 L600.8 581.8 L592.7 582.6Z" fill="#5E4FA2"/>
<path d="M637.4 611.6 L647.5 611.6 L649.5 622.9 L639.9 624.2Z" fill="#5E4FA2"/>
<path d="M556.6 540.9 L571.8 540.9 L573.0 556.1 L559.1 557.3Z" fill="#3288BD"/>
<path d="M629.0 649.2 L635.1 648.2 L637.1 655.2 L631.0 657.3Z" fill="#66C2A5"/>
<path d="M645.1 669.4 L650.2 668.4 L651.2 679.5 L646.2 679.5Z" fill="#66C2A5"/>
<path d="M680.4 520.0 L747.0 520.0 L745.0 531.1 L742.9 540.2 L738.9 546.2 L734.9 560.4 L728.8 568.4 L724.8 566.4 L726.8 554.3 L720.7 550.3 L714.7 558.4 L710.6 566.4 L704.6 560.4 L706.6 550.3 L698.5 548.3 L693.5 540.2 L696.5 532.1 L684.4 528.1Z" fill="#5E4FA2"/>
<path d="M666.2 578.5 L672.3 577.5 L673.3 584.6 L667.2 585.0Z" fill="#5E4FA2"/>
<path d="M684.4 578.5 L692.5 573.5 L694.5 576.5 L686.4 582.6Z" fill="#5E4FA2"/>
<path d="M640.0 610.8 L650.1 610.8 L651.1 625.0 L640.0 625.0Z" fill="#5E4FA2"/>
<path d="M710.6 580.6 L720.7 576.5 L736.9 580.6 L737.9 604.8 L734.9 629.0 L736.9 641.1 L734.9 653.2 L728.8 657.3 L724.8 649.2 L722.8 633.0 L724.8 620.9 L720.7 614.9 L710.6 606.8Z" fill="#3288BD"/>
<path d="M724.8 629.0 L728.8 629.0 L731.8 653.2 L726.8 653.2Z" fill="#5E4FA2"/>
<path d="M455.7 601.5 L470.8 604.0 L486.0 611.6 L491.0 621.7 L480.9 621.7 L465.8 614.1Z" fill="#ABDDA4"/>
<path d="M465.8 605.3 L480.9 607.8 L487.2 616.6 L478.4 617.9 L468.3 612.8Z" fill="#66C2A5"/>
<path d="M474.6 607.0 L483.4 607.8 L484.7 614.1 L475.9 614.1Z" fill="#3288BD"/>
<path d="M433.0 581.3 L445.6 580.0 L446.9 587.6 L434.2 588.9Z" fill="#66C2A5"/>
<path d="M437.5 582.6 L443.1 582.1 L443.6 586.8 L438.0 587.1Z" fill="#3288BD"/>
<path d="M479.7 620.4 L486.0 620.4 L494.8 639.3 L498.6 653.2 L493.5 654.0 L488.5 639.3Z" fill="#E6F598"/>
<path d="M482.2 624.2 L485.5 624.2 L493.5 641.9 L496.1 653.2 L494.0 653.5 L489.8 640.6Z" fill="#ABDDA4"/>
<path d="M755.7 706.4 L769.1 706.4 L770.8 723.2 L757.4 723.9Z" fill="#66C2A5"/>
<path d="M408.6 551.6 L421.2 549.0 L428.8 556.6 L426.2 566.7 L413.6 568.0Z" fill="#ABDDA4"/>
</g></g>
<path d="M1096.3 225.2 L1100.7 221.8 L1108.8 218.6 L1116.1 217.8 L1116.5 220.2 L1110.8 223.8 L1103.8 227.2 L1097.7 229.9Z" fill="#5E4FA2"/>
<path d="M1056.7 252.9 L1062.4 250.5 L1070.5 248.0 L1072.1 250.5 L1069.5 255.5 L1065.4 258.5 L1062.8 254.5 L1057.9 255.5Z" fill="#5E4FA2"/>
<path d="M1175.4 285.8 L1183.5 284.8 L1183.9 290.8 L1177.4 292.4Z" fill="#5E4FA2"/>
<path d="M1170.4 294.9 L1174.4 293.9 L1175.0 296.9 L1171.4 297.9Z" fill="#5E4FA2"/>
<path d="M1165.3 302.9 L1170.4 301.9 L1169.4 309.0 L1165.7 309.0Z" fill="#5E4FA2"/>
<path d="M1205.7 264.6 L1212.8 264.6 L1212.8 270.6 L1206.7 270.2Z" fill="#5E4FA2"/>
<path d="M1216.8 276.7 L1226.9 276.7 L1226.9 282.8 L1217.4 282.8Z" fill="#5E4FA2"/>
<path d="M1151.2 286.8 L1153.6 285.8 L1149.2 294.9 L1147.2 295.3Z" fill="#5E4FA2"/>
<path d="M1550.4 325.0 L1567.5 327.0 L1567.5 333.0 L1559.5 334.0 L1551.4 330.6Z" fill="#5E4FA2"/>
<path d="M1541.3 338.1 L1545.3 337.1 L1553.4 340.1 L1552.4 341.5Z" fill="#5E4FA2"/>
<path d="M1490.2 412.8 L1493.5 412.8 L1493.5 416.4 L1490.2 416.4Z" fill="#5E4FA2"/>
<path d="M1401.3 563.4 L1406.3 568.4 L1405.7 574.5 L1399.3 572.5 L1399.3 570.5Z" fill="#66C2A5"/>
<path d="M1405.7 574.5 L1405.3 580.6 L1393.2 589.6 L1385.1 596.7 L1381.1 595.7 L1386.2 588.6 L1389.2 580.6 L1393.2 576.5 L1399.3 572.5Z" fill="#ABDDA4"/>
<path d="M398.6 613.3 L410.7 612.4 L422.9 613.9 L422.4 617.3 L410.7 616.9 L399.6 616.5Z" fill="#FEE08B"/>
<path d="M408.7 613.3 L416.8 613.3 L416.8 616.1 L409.1 616.1Z" fill="#E6F598"/>
<path d="M439.0 629.0 L447.1 630.6 L446.7 635.1 L440.0 633.0Z" fill="#FDAE61"/>
<path d="M439.0 641.1 L442.0 641.1 L447.1 648.2 L444.0 649.6Z" fill="#FDAE61"/>
<path d="M418.4 635.1 L421.8 635.1 L421.8 639.5 L418.8 639.1Z" fill="#FEE08B"/>
<path d="M429.9 629.0 L431.9 629.0 L431.9 631.4 L429.9 631.4Z" fill="#FDAE61"/>
<path d="M1296.1 859.5 L1298.8 861.1 L1293.4 869.5 L1280.9 876.3 L1268.1 880.0 L1264.1 877.3 L1277.6 872.9 L1289.3 866.2Z" fill="#9E0142"/>
<path d="M1262.4 876.3 L1275.9 871.9 L1280.9 873.9 L1277.6 878.0 L1265.8 881.3Z" fill="#9E0142"/>
<path d="M1237.9 877.6 L1240.6 877.6 L1240.6 880.0 L1237.9 880.0Z" fill="#9E0142"/>
<path d="M1254.7 878.6 L1258.0 878.6 L1258.0 880.6 L1254.7 880.6Z" fill="#9E0142"/>
<path d="M969.2 743.0 L961.1 754.3 L953.0 761.1 L945.0 765.2 L936.9 769.2 L928.8 773.3 L923.8 776.9 L921.7 774.9 L926.8 771.8 L934.9 768.2 L942.9 764.4 L951.0 760.3 L959.1 753.1 L967.2 742.6Z" fill="#FDAE61"/>
<path d="M923.8 776.9 L919.7 782.9 L916.7 790.0 L915.1 797.1 L913.1 796.7 L914.3 789.0 L917.7 781.9 L921.7 774.9Z" fill="#F46D43"/>
<path d="M915.1 797.1 L914.3 809.2 L916.7 821.3 L919.7 831.4 L921.7 838.5 L919.7 839.5 L916.7 831.4 L913.7 821.3 L911.7 809.2 L912.7 796.7Z" fill="#D53E4F"/>
<path d="M1100.4 727.2 L1106.1 724.9 L1102.7 736.7 L1098.7 740.7Z" fill="#FDAE61"/>
<path d="M1288.3 761.9 L1291.7 766.9 L1292.7 773.7 L1289.7 770.3Z" fill="#FDAE61"/>
<g class="b">
<path d="M346.5 196.0 L963.3 195.9 L963.3 185.8 L972.7 185.8 L976.0 201.0 L984.5 203.6 L994.6 206.3 L1003.0 205.3 L1013.1 206.3 L1020.0 208.1 L1026.1 212.1 L1032.1 214.1 L1038.2 217.2 L1044.2 220.2 L1052.3 218.2 L1060.4 216.1 L1065.4 219.8 L1078.5 220.2 L1091.7 223.8 L1080.6 228.3 L1068.4 234.3 L1058.4 240.4 L1048.3 248.4 L1038.2 256.5 L1029.1 260.6 L1040.2 258.5 L1050.3 255.5 L1058.4 252.9 L1061.4 260.6 L1068.4 260.2 L1074.5 264.2 L1080.6 259.5 L1090.6 255.5 L1100.7 250.5 L1108.8 245.4 L1116.9 239.4 L1125.0 237.3 L1131.0 239.4 L1125.0 242.4 L1118.9 248.4 L1114.5 253.5 L1114.9 258.5 L1120.9 253.5 L1129.0 254.5 L1135.1 258.5 L1139.1 263.6 L1145.1 265.6 L1153.2 266.6 L1161.3 263.6 L1169.4 260.6 L1179.5 259.5 L1192.6 258.5 L1193.2 264.6 L1201.7 266.6 L1209.7 267.6 L1211.8 274.7 L1215.8 279.7 L1209.7 280.7 L1199.6 281.7 L1197.6 279.7 L1191.6 278.7 L1181.5 277.7 L1173.4 279.7 L1165.3 281.7 L1159.3 284.8 L1157.3 282.8 L1151.2 282.8 L1147.2 282.8 L1145.1 286.8 L1141.1 292.9 L1136.1 299.9 L1132.0 305.0 L1129.0 310.0 L1125.0 317.1 L1122.9 321.1 L1129.0 316.1 L1135.1 309.0 L1141.1 302.9 L1146.2 298.9 L1147.2 302.9 L1143.1 309.0 L1139.1 315.1 L1136.1 323.1 L1135.1 331.2 L1132.0 339.3 L1129.1 342.1 L1127.1 354.2 L1128.1 366.3 L1129.1 378.4 L1132.1 390.6 L1136.1 398.6 L1140.2 400.6 L1148.3 397.6 L1156.3 394.6 L1160.4 388.5 L1163.4 378.4 L1165.4 368.4 L1163.4 358.3 L1160.4 350.2 L1158.4 342.1 L1159.4 334.0 L1161.4 330.0 L1158.3 335.2 L1161.3 329.2 L1163.3 321.1 L1167.4 315.1 L1173.4 311.0 L1176.4 312.0 L1178.5 305.0 L1181.5 313.0 L1182.5 300.9 L1185.5 296.9 L1191.6 293.9 L1193.6 286.8 L1198.6 280.7 L1205.7 286.8 L1213.8 289.8 L1221.9 294.9 L1227.9 298.9 L1229.9 305.0 L1228.9 313.0 L1229.9 321.1 L1225.9 329.2 L1221.9 334.2 L1216.8 338.3 L1215.8 342.3 L1219.8 345.3 L1225.9 341.3 L1231.9 335.2 L1238.0 333.2 L1243.0 337.3 L1246.1 345.3 L1247.2 350.2 L1248.2 362.3 L1246.2 372.4 L1241.1 374.4 L1238.1 380.5 L1233.0 384.5 L1231.0 390.6 L1227.0 396.6 L1226.0 399.6 L1233.0 402.7 L1239.1 406.7 L1247.2 407.7 L1257.3 405.7 L1265.3 402.7 L1275.4 397.6 L1285.5 394.6 L1291.6 392.2 L1301.7 387.5 L1309.7 384.5 L1317.8 378.4 L1323.9 373.4 L1327.9 368.4 L1324.9 362.3 L1325.9 356.2 L1334.0 354.2 L1346.1 353.8 L1360.0 355.2 L1364.6 354.8 L1372.7 355.6 L1380.7 352.1 L1387.5 346.7 L1388.8 339.9 L1387.5 331.9 L1394.2 325.1 L1402.3 315.7 L1410.3 309.8 L1417.1 307.1 L1493.8 307.1 L1497.8 300.1 L1504.5 298.2 L1512.6 290.2 L1520.7 283.4 L1522.0 271.3 L1527.4 257.9 L1543.6 239.8 L1548.9 239.8 L1550.3 244.4 L1566.4 240.9 L1577.2 249.8 L1577.2 286.1 L1583.9 291.5 L1585.3 300.9 L1593.4 306.3 L1594.7 313.0 L1585.3 318.4 L1579.9 322.5 L1566.4 326.5 L1555.7 325.1 L1551.6 329.2 L1542.2 334.6 L1534.1 338.6 L1526.1 341.3 L1520.7 349.4 L1515.3 358.8 L1511.3 366.9 L1508.6 372.2 L1513.0 374.0 L1507.7 378.1 L1503.6 382.1 L1506.3 384.8 L1511.7 387.5 L1514.4 392.9 L1517.1 397.6 L1521.1 397.3 L1527.8 398.7 L1528.9 394.2 L1526.5 390.2 L1522.7 388.6 L1527.2 389.5 L1529.9 394.2 L1528.9 399.9 L1521.1 398.9 L1517.3 398.9 L1513.0 401.0 L1509.0 405.0 L1503.6 406.3 L1499.6 404.3 L1496.9 402.3 L1494.2 403.6 L1489.5 407.7 L1480.7 410.4 L1472.7 410.4 L1464.6 411.7 L1460.6 410.4 L1453.8 413.1 L1447.1 415.8 L1443.1 417.1 L1440.4 421.1 L1435.0 427.9 L1431.0 433.2 L1439.0 434.6 L1439.7 440.0 L1438.4 448.0 L1435.0 456.1 L1429.6 462.9 L1425.6 468.2 L1421.5 473.6 L1417.5 477.7 L1413.9 480.9 L1414.9 490.0 L1413.9 497.1 L1408.8 505.1 L1404.8 513.2 L1399.7 521.3 L1394.7 529.4 L1393.7 533.4 L1395.7 542.5 L1397.7 551.6 L1400.7 560.1 L1395.2 532.1 L1397.3 544.2 L1400.3 554.3 L1403.3 563.4 L1399.3 570.5 L1393.2 576.5 L1389.2 580.6 L1386.2 588.6 L1381.1 595.7 L1373.0 597.7 L1365.0 600.7 L1356.9 605.8 L1351.8 610.8 L1347.8 617.9 L1340.7 618.9 L1336.7 618.9 L1329.6 622.9 L1324.6 629.0 L1320.6 635.1 L1320.6 641.1 L1312.5 646.2 L1304.4 651.2 L1296.3 656.2 L1290.3 660.3 L1285.2 663.3 L1284.2 670.4 L1280.2 677.4 L1276.1 685.5 L1272.1 693.6 L1269.1 700.1 L1280.9 671.1 L1275.9 682.8 L1270.2 696.3 L1270.8 708.1 L1275.9 729.9 L1280.9 750.1 L1287.7 770.3 L1292.7 790.5 L1297.7 807.3 L1302.8 824.1 L1303.5 837.6 L1301.1 847.7 L1296.1 857.8 L1287.7 862.8 L1279.2 861.1 L1274.2 854.4 L1267.5 842.6 L1260.7 827.5 L1254.7 815.7 L1252.3 814.0 L1245.6 800.6 L1243.9 788.8 L1243.9 773.7 L1240.6 758.5 L1233.8 750.1 L1225.4 736.7 L1217.0 726.6 L1206.9 724.9 L1198.5 729.9 L1186.7 731.6 L1182.8 733.3 L1176.0 721.5 L1162.6 714.8 L1149.1 713.8 L1135.7 713.1 L1130.6 719.2 L1125.6 719.8 L1123.9 708.1 L1121.5 719.8 L1115.5 716.5 L1102.0 718.2 L1095.3 721.5 L1098.7 726.6 L1095.3 733.3 L1090.3 740.0 L1095.3 746.8 L1100.4 753.5 L1095.3 756.8 L1088.6 748.4 L1081.9 743.4 L1071.8 750.1 L1061.7 751.8 L1051.6 745.1 L1044.8 738.3 L1036.4 733.3 L1028.0 736.7 L1014.6 736.7 L1004.5 733.3 L995.4 733.5 L989.4 735.5 L981.3 739.5 L975.2 741.6 L973.2 732.9 L968.6 734.5 L969.6 741.6 L965.1 746.6 L961.1 752.7 L953.0 759.7 L945.0 763.8 L938.9 766.8 L932.9 769.8 L926.8 772.9 L920.7 776.9 L916.7 782.9 L912.7 789.0 L910.6 797.1 L909.6 805.1 L911.7 813.2 L913.7 821.3 L916.7 831.4 L919.7 839.5 L914.7 841.5 L906.6 839.5 L900.0 837.6 L886.9 832.5 L876.8 829.2 L875.1 820.8 L868.4 810.7 L866.7 797.2 L861.6 790.5 L853.2 777.0 L846.5 763.6 L839.8 753.5 L833.1 743.4 L824.6 735.0 L814.6 733.3 L804.5 731.6 L794.4 736.7 L789.3 750.1 L784.3 756.2 L772.5 750.1 L762.4 743.4 L754.0 735.0 L750.6 726.6 L747.3 716.5 L738.9 708.1 L728.8 696.3 L718.7 687.9 L710.3 677.8 L673.3 677.8 L673.3 689.6 L654.1 689.6 L609.3 689.6 L526.9 656.6 L527.3 654.3 L474.2 656.2 L471.5 652.9 L470.2 646.1 L467.5 638.0 L462.1 631.3 L455.4 625.9 L450.0 621.9 L445.3 621.9 L443.2 616.5 L437.9 614.5 L428.4 611.8 L424.4 607.1 L417.7 603.7 L406.9 603.1 L398.8 601.7 L394.1 597.7 L394.8 591.0 L393.5 582.9 L390.8 577.5 L385.4 570.8 L379.2 565.1 L372.5 553.3 L368.1 544.9 L369.2 534.8 L362.4 528.1 L357.4 518.0 L359.1 507.9 L352.3 504.6 L343.9 502.9 L340.6 494.5 L333.8 484.4 L327.1 474.3 L325.4 464.2 L320.4 450.7 L313.6 440.6 L311.0 433.9 L312.0 427.2 L315.3 417.1 L317.0 403.6 L315.3 390.9 L311.5 390.0 L310.2 384.4 L310.9 377.7 L309.5 372.3 L307.5 368.2 L310.2 362.9 L311.5 354.8 L314.2 345.4 L316.2 334.6 L317.6 323.8 L318.9 310.4 L320.3 296.9 L321.6 286.1 L321.6 278.1 L320.3 272.7 L318.9 271.5 L318.9 267.5 L321.6 263.4 L323.6 259.4 L318.9 258.0 L320.3 255.4 L324.3 252.7 L318.3 251.3 L316.2 247.3 L314.2 240.6 L312.2 233.8 L308.8 228.4 L304.8 224.4 L303.5 219.0 L303.5 213.0 L306.1 212.3 L310.2 213.6 L316.9 215.7 L322.3 217.7 L330.4 218.4 L338.4 219.3 L342.5 220.4 L344.5 223.1 L346.5 225.1 L345.2 228.4 L343.2 232.5 L340.5 235.8 L339.1 240.6 L339.8 244.6 L341.8 248.6 L345.2 250.6 L349.2 249.3 L353.2 245.9 L357.3 243.2 L358.0 239.2 L357.3 233.8 L358.6 227.1 L360.6 223.3 L358.6 220.4 L357.3 215.0 L355.9 208.9 L355.3 204.2 L351.9 201.5 L347.2 200.2 L346.5 195.9Z"/>
<path d="M1443.3 418.7 L1451.1 416.4 L1460.6 414.4 L1470.0 413.1 L1475.4 414.8 L1480.7 416.2 L1486.1 417.1 L1480.7 420.5 L1472.7 423.8 L1464.6 427.9 L1456.5 431.2 L1448.4 432.2 L1440.4 433.2 L1433.0 433.8 L1437.7 427.9 L1441.0 421.8Z"/>
<path d="M320.3 272.9 L325.0 271.5 L330.4 272.2 L335.8 273.5 L341.1 274.2 L345.2 276.9 L347.2 282.3 L347.9 287.7 L350.6 290.3 L355.9 291.7 L361.3 289.7 L366.7 287.7 L373.4 287.0 L378.8 288.3 L382.9 291.0 L386.9 289.0 L395.0 287.0 L399.0 287.7 L405.7 285.6 L412.5 283.6 L419.2 282.0 L425.9 280.9 L431.3 279.8 L478.2 279.6"/>
<path d="M475.5 196.0 L475.5 268.4 L476.1 278.3"/>
<path d="M476.1 278.3 L481.9 282.7 L487.6 288.4 L484.5 296.2 L481.2 304.6 L475.1 314.7 L471.1 324.1 L472.4 328.1 L477.8 330.8 L475.5 336.5 L475.7 391.0"/>
<path d="M316.0 391.0 L609.3 391.0"/>
<path d="M409.4 391.0 L409.4 474.6 L529.3 586.0"/>
<path d="M542.5 391.0 L542.5 554.0 L537.4 558.4 L528.9 556.7 L527.3 568.5 L528.9 585.3 L532.3 595.4 L539.0 605.5 L537.4 612.2 L530.6 618.9 L528.9 629.0 L527.3 639.1 L530.6 647.5 L527.3 654.3"/>
<path d="M497.6 196.0 L497.6 223.9 L498.7 223.8 L503.7 235.6 L508.8 240.6 L515.5 245.7 L523.9 257.5 L530.6 260.8 L535.7 261.5 L534.7 270.9 L531.6 277.7 L533.0 282.7 L530.6 289.4 L535.7 292.8 L544.1 287.7 L549.1 296.2 L554.2 304.6 L559.2 311.3 L564.3 318.0 L567.6 324.1 L576.0 322.1 L584.5 321.4 L594.6 320.4 L601.3 314.7 L604.6 316.3 L609.0 321.4"/>
<path d="M609.3 307.4 L609.3 418.9 L653.9 418.9"/>
<path d="M609.3 307.4 L609.3 321.4"/>
<path d="M609.3 307.4 L765.6 307.4"/>
<path d="M765.6 196.0 L765.6 418.9"/>
<path d="M653.9 418.9 L810.2 418.9 L810.2 530.3"/>
<path d="M653.9 418.9 L653.9 688.3"/>
<path d="M542.5 530.3 L976.1 530.3"/>
<path d="M789.0 530.3 L789.0 544.2"/>
<path d="M788.1 544.2 L787.7 669.6"/>
<path d="M787.7 669.6 L708.2 669.6 L710.3 677.8"/>
<path d="M789.0 544.2 L856.0 544.2 L856.0 598.3"/>
<path d="M855.6 600.4 L863.3 603.8 L871.8 605.5 L878.5 609.5 L885.2 612.2 L890.1 612.2 L900.2 617.2 L913.6 620.6 L923.7 618.9 L937.2 622.3 L952.3 618.9 L964.1 617.2 L974.2 622.3 L980.9 625.0 L989.3 625.6"/>
<path d="M765.6 281.3 L932.8 281.3"/>
<path d="M765.6 363.2 L889.5 363.2 L890.3 364.1 L900.4 370.2 L912.1 368.5 L922.2 370.8 L930.6 374.2"/>
<path d="M810.2 446.7 L961.0 446.7"/>
<path d="M918.2 195.9 L919.5 207.0 L921.5 220.5 L924.9 230.6 L928.3 242.3 L929.6 254.1 L931.6 267.6 L933.0 279.3 L928.9 287.7 L935.0 295.1 L936.3 297.8 L936.3 350.0"/>
<path d="M935.3 349.2 L1052.1 349.2"/>
<path d="M935.0 350.0 L932.3 356.7 L935.7 363.4 L932.3 371.9 L931.6 374.2 L937.4 381.9 L940.7 393.7 L945.8 405.5 L949.1 418.9 L951.8 430.7 L955.9 439.1 L960.9 447.5 L967.6 450.9 L966.0 459.3 L969.3 452.4 L967.6 460.8 L972.7 467.6 L976.7 470.9 L976.4 471.8 L976.1 544.2"/>
<path d="M950.5 430.6 L1040.7 430.0 L1046.7 432.2"/>
<path d="M976.1 544.2 L1076.0 544.2"/>
<path d="M976.1 544.2 L980.4 575.2 L979.3 623.9"/>
<path d="M989.3 625.6 L989.3 643.1 L989.3 671.1 L995.4 680.0 L999.5 690.1 L1000.5 700.2 L997.4 710.3 L997.4 720.4 L995.4 728.4 L994.4 733.5"/>
<path d="M989.1 641.8 L1053.2 641.8"/>
<path d="M1029.1 260.6 L1028.1 268.6 L1028.1 276.7 L1023.0 280.7 L1020.0 282.8 L1016.4 286.1 L1016.4 296.2 L1019.8 304.6 L1018.1 313.0 L1026.5 319.7 L1034.9 326.4 L1045.0 334.8 L1051.7 341.6 L1053.4 350.0"/>
<path d="M1053.4 350.0 L1055.1 361.8 L1058.5 368.5 L1066.9 375.2 L1071.9 380.3 L1075.3 390.4 L1072.9 400.4 L1066.4 405.0 L1057.3 408.1 L1056.3 414.1 L1057.3 420.2 L1053.3 428.3 L1048.3 432.3 L1046.2 438.4 L1046.2 448.4 L1050.3 456.5 L1057.3 463.6 L1063.4 468.6 L1065.4 475.7 L1070.5 477.7 L1076.5 479.7 L1075.5 486.8 L1071.5 493.9 L1074.5 498.9 L1082.6 505.0 L1089.6 511.0 L1092.7 518.1 L1091.7 524.1 L1095.7 529.2 L1099.7 532.2 L1098.7 539.3 L1095.7 544.3 L1090.6 545.3 L1089.6 551.4 L1086.6 559.5 L1084.6 565.5 L1080.6 573.6 L1077.5 577.6 L1071.8 592.0 L1063.3 602.1 L1054.9 613.9 L1053.3 629.0 L1054.3 643.1 L1054.9 654.2 L1058.3 662.6 L1051.6 671.1 L1046.5 681.2 L1044.2 691.2 L1044.8 699.7 L1085.2 699.7 L1084.5 709.7 L1086.9 721.5 L1088.6 724.9"/>
<path d="M1065.0 377.1 L1128.4 377.1"/>
<path d="M1074.5 264.2 L1078.5 269.6 L1090.6 273.7 L1104.8 277.7 L1116.9 280.7 L1122.9 284.8 L1126.0 289.8 L1127.0 296.9 L1131.0 298.9 L1133.0 304.0"/>
<path d="M1136.1 398.6 L1135.5 400.0 L1135.5 466.6 L1133.0 470.6 L1135.1 474.7 L1136.1 480.7 L1133.0 486.8 L1129.0 492.9 L1125.0 498.9 L1122.9 506.0"/>
<path d="M1148.3 397.6 L1196.3 397.6 L1226.0 399.6"/>
<path d="M1196.3 397.6 L1196.0 474.7"/>
<path d="M1099.7 532.2 L1102.8 526.2 L1108.8 527.2 L1113.9 529.2 L1114.9 523.1 L1116.9 519.1 L1122.9 518.1 L1121.9 512.0 L1124.0 506.0 L1133.0 505.0 L1139.1 507.0 L1145.1 509.0 L1151.2 505.0 L1155.2 507.0 L1159.3 500.9 L1163.3 498.9 L1168.4 504.0 L1173.4 498.9 L1177.4 494.9 L1181.5 488.8 L1183.5 483.8 L1189.6 481.7 L1195.6 480.7 L1196.6 473.7 L1202.7 472.7 L1208.7 478.7 L1216.8 481.7 L1224.9 483.8 L1231.9 484.8 L1238.0 482.8 L1243.0 488.8 L1248.1 489.8 L1245.4 492.9 L1250.5 488.8 L1254.5 480.7 L1258.5 475.7 L1264.6 472.7 L1268.6 465.6 L1274.7 461.6 L1280.7 457.5 L1284.8 450.5 L1287.8 440.4 L1288.8 430.3 L1291.8 424.2"/>
<path d="M1291.6 392.2 L1291.8 454.1 L1398.8 454.1"/>
<path d="M1075.5 544.9 L1078.5 550.4 L1070.9 560.1 L1085.0 560.5"/>
<path d="M1097.7 544.9 L1124.0 544.9 L1124.6 540.7 L1161.3 541.3 L1221.9 542.3 L1220.2 542.5 L1266.6 542.5 L1267.6 543.7 L1395.8 543.7"/>
<path d="M1245.4 492.9 L1244.4 500.9 L1248.4 509.0 L1254.5 516.1 L1259.5 520.1 L1252.5 523.1 L1244.4 529.2 L1236.3 535.2 L1228.3 540.3 L1220.2 542.5"/>
<path d="M1259.5 520.1 L1264.6 523.1 L1270.6 523.5 L1277.7 521.1 L1284.8 520.1 L1290.8 517.1 L1296.9 515.1 L1299.9 509.0 L1302.9 502.9 L1307.0 496.9 L1310.0 490.8 L1312.0 486.8 L1317.1 490.8 L1321.1 488.8 L1325.1 481.7 L1331.2 476.7 L1335.2 472.7 L1339.3 466.6 L1341.3 460.6 L1350.4 471.7 L1356.4 469.6"/>
<path d="M1314.0 454.1 L1314.0 469.6 L1321.1 464.6 L1329.2 460.6 L1335.2 457.5 L1341.3 458.5 L1345.3 457.1 L1350.4 459.5 L1353.4 464.6 L1356.4 469.6 L1361.5 470.6 L1367.5 475.7 L1372.6 478.7 L1369.6 484.8 L1364.5 488.8 L1365.5 494.9 L1371.6 495.9 L1377.6 498.9 L1382.7 501.9 L1387.7 507.0 L1393.8 513.0"/>
<path d="M1266.6 543.7 L1264.6 549.4 L1258.5 554.4 L1250.5 559.5 L1240.4 563.5 L1230.3 569.6 L1220.2 574.6 L1210.1 580.1 L1206.2 585.3"/>
<path d="M1072.6 586.0 L1233.4 586.0"/>
<path d="M1119.5 586.0 L1117.2 659.3 L1115.5 716.5"/>
<path d="M1177.6 586.0 L1184.5 625.6 L1189.5 659.3 L1191.2 669.4 L1188.8 682.8 L1191.2 696.3 L1192.9 706.4"/>
<path d="M1192.9 706.4 L1189.5 699.7 L1133.0 699.7 L1135.7 713.1"/>
<path d="M1192.9 706.4 L1255.1 711.4 L1256.1 718.2 L1260.2 706.4 L1270.2 708.1"/>
<path d="M1233.4 586.0 L1229.9 592.0 L1240.0 602.1 L1250.1 615.5 L1260.2 629.0 L1270.2 642.5 L1277.0 657.6 L1279.2 667.7 L1284.3 664.3"/>
<path d="M1233.4 586.0 L1260.0 580.6 L1280.2 582.6 L1285.2 590.6 L1309.5 591.7 L1336.7 618.9"/>
<path d="M1308.7 384.5 L1308.7 391.6 L1406.4 391.0"/>
<path d="M1408.8 391.5 L1413.9 397.2 L1415.9 404.2 L1419.9 409.3 L1416.9 416.3 L1412.9 422.4 L1410.8 429.5 L1414.9 435.5 L1420.9 441.6 L1418.9 446.6 L1412.9 450.6 L1406.8 453.7 L1404.8 455.7"/>
<path d="M1419.9 409.3 L1441.1 419.4"/>
<path d="M1404.8 453.7 L1400.7 455.1 L1399.7 457.7 L1399.7 491.0 L1414.5 490.6"/>
<path d="M1400.7 505.1 L1408.8 505.1"/>
<path d="M1452.1 307.1 L1450.7 318.4 L1449.4 329.2 L1450.2 345.3 L1453.9 350.7 L1454.8 372.2 L1450.7 388.4 L1450.2 391.6 L1446.7 412.6 L1442.6 418.0"/>
<path d="M1492.4 307.1 L1489.7 318.4 L1483.0 326.5 L1477.6 339.9 L1473.6 350.7 L1472.2 361.5 L1469.6 370.9"/>
<path d="M1504.5 298.2 L1507.2 361.5 L1508.6 368.2 L1511.3 369.6"/>
<path d="M1454.8 371.4 L1499.2 370.4 L1505.9 365.5 L1509.9 368.2"/>
<path d="M1450.7 390.5 L1487.6 390.5 L1496.5 391.6 L1499.2 400.5"/>
<path d="M1487.6 390.5 L1487.6 408.6"/>
<g filter="url(#rough2)">
<path d="M963.3 195.9 L963.3 185.8 L972.7 185.8"/>
<path d="M976.0 201.0 L984.5 203.6 L994.6 206.3 L1003.0 205.3 L1013.1 206.3 L1020.0 208.1 L1026.1 212.1 L1032.1 214.1 L1038.2 217.2 L1044.2 220.2 L1052.3 218.2 L1060.4 216.1 L1065.4 219.8 L1078.5 220.2 L1091.7 223.8 L1080.6 228.3 L1068.4 234.3 L1058.4 240.4 L1048.3 248.4 L1038.2 256.5 L1029.1 260.6 L1040.2 258.5 L1050.3 255.5 L1058.4 252.9 L1061.4 260.6 L1068.4 260.2 L1074.5 264.2 L1080.6 259.5 L1090.6 255.5 L1100.7 250.5 L1108.8 245.4 L1116.9 239.4 L1125.0 237.3 L1131.0 239.4 L1125.0 242.4 L1118.9 248.4 L1114.5 253.5 L1114.9 258.5 L1120.9 253.5 L1129.0 254.5 L1135.1 258.5 L1139.1 263.6 L1145.1 265.6 L1153.2 266.6 L1161.3 263.6 L1169.4 260.6 L1179.5 259.5 L1192.6 258.5 L1193.2 264.6 L1201.7 266.6 L1209.7 267.6 L1211.8 274.7 L1215.8 279.7 L1209.7 280.7 L1199.6 281.7 L1197.6 279.7 L1191.6 278.7 L1181.5 277.7 L1173.4 279.7 L1165.3 281.7 L1159.3 284.8 L1157.3 282.8 L1151.2 282.8 L1147.2 282.8 L1145.1 286.8 L1141.1 292.9 L1136.1 299.9 L1132.0 305.0 L1129.0 310.0 L1125.0 317.1 L1122.9 321.1 L1129.0 316.1 L1135.1 309.0 L1141.1 302.9 L1146.2 298.9 L1147.2 302.9 L1143.1 309.0 L1139.1 315.1 L1136.1 323.1 L1135.1 331.2 L1132.0 339.3 L1129.1 342.1 L1127.1 354.2 L1128.1 366.3 L1129.1 378.4 L1132.1 390.6 L1136.1 398.6 L1140.2 400.6 L1148.3 397.6 L1156.3 394.6 L1160.4 388.5 L1163.4 378.4 L1165.4 368.4 L1163.4 358.3 L1160.4 350.2 L1158.4 342.1 L1159.4 334.0 L1161.4 330.0 L1158.3 335.2 L1161.3 329.2 L1163.3 321.1 L1167.4 315.1 L1173.4 311.0 L1176.4 312.0 L1178.5 305.0 L1181.5 313.0 L1182.5 300.9 L1185.5 296.9 L1191.6 293.9 L1193.6 286.8 L1198.6 280.7 L1205.7 286.8 L1213.8 289.8 L1221.9 294.9 L1227.9 298.9 L1229.9 305.0 L1228.9 313.0 L1229.9 321.1 L1225.9 329.2 L1221.9 334.2 L1216.8 338.3 L1215.8 342.3 L1219.8 345.3 L1225.9 341.3 L1231.9 335.2 L1238.0 333.2 L1243.0 337.3 L1246.1 345.3 L1247.2 350.2 L1248.2 362.3 L1246.2 372.4 L1241.1 374.4 L1238.1 380.5 L1233.0 384.5 L1231.0 390.6 L1227.0 396.6 L1226.0 399.6 L1233.0 402.7 L1239.1 406.7 L1247.2 407.7 L1257.3 405.7 L1265.3 402.7 L1275.4 397.6 L1285.5 394.6 L1291.6 392.2 L1301.7 387.5 L1309.7 384.5 L1317.8 378.4 L1323.9 373.4 L1327.9 368.4 L1324.9 362.3 L1325.9 356.2 L1334.0 354.2 L1346.1 353.8 L1360.0 355.2 L1364.6 354.8 L1372.7 355.6 L1380.7 352.1 L1387.5 346.7 L1388.8 339.9 L1387.5 331.9 L1394.2 325.1 L1402.3 315.7 L1410.3 309.8 L1417.1 307.1"/>
<path d="M1493.8 307.1 L1497.8 300.1 L1504.5 298.2 L1512.6 290.2 L1520.7 283.4 L1522.0 271.3 L1527.4 257.9"/>
<path d="M1543.6 239.8 L1548.9 239.8 L1550.3 244.4"/>
<path d="M1577.2 286.1 L1583.9 291.5 L1585.3 300.9 L1593.4 306.3 L1594.7 313.0 L1585.3 318.4 L1579.9 322.5 L1566.4 326.5 L1555.7 325.1 L1551.6 329.2 L1542.2 334.6 L1534.1 338.6 L1526.1 341.3 L1520.7 349.4 L1515.3 358.8 L1511.3 366.9 L1508.6 372.2 L1513.0 374.0 L1507.7 378.1 L1503.6 382.1 L1506.3 384.8 L1511.7 387.5 L1514.4 392.9 L1517.1 397.6 L1521.1 397.3 L1527.8 398.7 L1528.9 394.2 L1526.5 390.2 L1522.7 388.6 L1527.2 389.5 L1529.9 394.2 L1528.9 399.9 L1521.1 398.9 L1517.3 398.9 L1513.0 401.0 L1509.0 405.0 L1503.6 406.3 L1499.6 404.3 L1496.9 402.3 L1494.2 403.6 L1489.5 407.7 L1480.7 410.4 L1472.7 410.4 L1464.6 411.7 L1460.6 410.4 L1453.8 413.1 L1447.1 415.8 L1443.1 417.1 L1440.4 421.1 L1435.0 427.9 L1431.0 433.2 L1439.0 434.6 L1439.7 440.0 L1438.4 448.0 L1435.0 456.1 L1429.6 462.9 L1425.6 468.2 L1421.5 473.6 L1417.5 477.7 L1413.9 480.9 L1414.9 490.0 L1413.9 497.1 L1408.8 505.1 L1404.8 513.2 L1399.7 521.3 L1394.7 529.4 L1393.7 533.4 L1395.7 542.5 L1397.7 551.6 L1400.7 560.1"/>
<path d="M1395.2 532.1 L1397.3 544.2 L1400.3 554.3 L1403.3 563.4 L1399.3 570.5 L1393.2 576.5 L1389.2 580.6 L1386.2 588.6 L1381.1 595.7 L1373.0 597.7 L1365.0 600.7 L1356.9 605.8 L1351.8 610.8 L1347.8 617.9 L1340.7 618.9 L1336.7 618.9 L1329.6 622.9 L1324.6 629.0 L1320.6 635.1 L1320.6 641.1 L1312.5 646.2 L1304.4 651.2 L1296.3 656.2 L1290.3 660.3 L1285.2 663.3 L1284.2 670.4 L1280.2 677.4 L1276.1 685.5 L1272.1 693.6 L1269.1 700.1"/>
<path d="M1280.9 671.1 L1275.9 682.8 L1270.2 696.3 L1270.8 708.1"/>
<path d="M1302.8 824.1 L1303.5 837.6 L1301.1 847.7 L1296.1 857.8 L1287.7 862.8 L1279.2 861.1 L1274.2 854.4 L1267.5 842.6"/>
<path d="M1260.7 827.5 L1254.7 815.7 L1252.3 814.0"/>
<path d="M1225.4 736.7 L1217.0 726.6 L1206.9 724.9 L1198.5 729.9 L1186.7 731.6 L1182.8 733.3 L1176.0 721.5"/>
<path d="M1162.6 714.8 L1149.1 713.8 L1135.7 713.1 L1130.6 719.2 L1125.6 719.8 L1123.9 708.1 L1121.5 719.8 L1115.5 716.5 L1102.0 718.2 L1095.3 721.5 L1098.7 726.6 L1095.3 733.3 L1090.3 740.0 L1095.3 746.8 L1100.4 753.5 L1095.3 756.8 L1088.6 748.4 L1081.9 743.4 L1071.8 750.1 L1061.7 751.8 L1051.6 745.1 L1044.8 738.3 L1036.4 733.3 L1028.0 736.7 L1014.6 736.7 L1004.5 733.3 L995.4 733.5 L989.4 735.5 L981.3 739.5 L975.2 741.6 L973.2 732.9 L968.6 734.5 L969.6 741.6 L965.1 746.6 L961.1 752.7 L953.0 759.7 L945.0 763.8 L938.9 766.8 L932.9 769.8 L926.8 772.9 L920.7 776.9 L916.7 782.9 L912.7 789.0 L910.6 797.1 L909.6 805.1 L911.7 813.2 L913.7 821.3 L916.7 831.4 L919.7 839.5 L914.7 841.5 L906.6 839.5 L900.0 837.6 L886.9 832.5 L876.8 829.2 L875.1 820.8 L868.4 810.7 L866.7 797.2 L861.6 790.5"/>
<path d="M846.5 763.6 L839.8 753.5 L833.1 743.4 L824.6 735.0 L814.6 733.3 L804.5 731.6 L794.4 736.7 L789.3 750.1 L784.3 756.2 L772.5 750.1 L762.4 743.4 L754.0 735.0 L750.6 726.6 L747.3 716.5 L738.9 708.1"/>
<path d="M728.8 696.3 L718.7 687.9 L710.3 677.8"/>
<path d="M474.2 656.2 L471.5 652.9 L470.2 646.1 L467.5 638.0 L462.1 631.3 L455.4 625.9 L450.0 621.9 L445.3 621.9 L443.2 616.5 L437.9 614.5 L428.4 611.8 L424.4 607.1 L417.7 603.7 L406.9 603.1 L398.8 601.7 L394.1 597.7 L394.8 591.0 L393.5 582.9 L390.8 577.5 L385.4 570.8 L379.2 565.1 L372.5 553.3 L368.1 544.9 L369.2 534.8 L362.4 528.1 L357.4 518.0 L359.1 507.9 L352.3 504.6 L343.9 502.9 L340.6 494.5 L333.8 484.4 L327.1 474.3 L325.4 464.2 L320.4 450.7 L313.6 440.6 L311.0 433.9 L312.0 427.2 L315.3 417.1 L317.0 403.6 L315.3 390.9 L311.5 390.0 L310.2 384.4 L310.9 377.7 L309.5 372.3 L307.5 368.2 L310.2 362.9 L311.5 354.8 L314.2 345.4 L316.2 334.6 L317.6 323.8 L318.9 310.4 L320.3 296.9 L321.6 286.1 L321.6 278.1 L320.3 272.7 L318.9 271.5 L318.9 267.5 L321.6 263.4 L323.6 259.4 L318.9 258.0 L320.3 255.4 L324.3 252.7 L318.3 251.3 L316.2 247.3 L314.2 240.6 L312.2 233.8 L308.8 228.4 L304.8 224.4 L303.5 219.0 L303.5 213.0 L306.1 212.3 L310.2 213.6 L316.9 215.7 L322.3 217.7 L330.4 218.4 L338.4 219.3 L342.5 220.4 L344.5 223.1 L346.5 225.1 L345.2 228.4 L343.2 232.5 L340.5 235.8 L339.1 240.6 L339.8 244.6 L341.8 248.6 L345.2 250.6 L349.2 249.3 L353.2 245.9 L357.3 243.2 L358.0 239.2 L357.3 233.8 L358.6 227.1 L360.6 223.3 L358.6 220.4 L357.3 215.0 L355.9 208.9 L355.3 204.2 L351.9 201.5 L347.2 200.2 L346.5 195.9 L346.5 196.0"/>
<path d="M1443.3 418.7 L1451.1 416.4 L1460.6 414.4 L1470.0 413.1 L1475.4 414.8 L1480.7 416.2 L1486.1 417.1 L1480.7 420.5 L1472.7 423.8 L1464.6 427.9 L1456.5 431.2 L1448.4 432.2 L1440.4 433.2 L1433.0 433.8 L1437.7 427.9 L1441.0 421.8Z"/>
<path d="M320.3 272.9 L325.0 271.5 L330.4 272.2 L335.8 273.5 L341.1 274.2 L345.2 276.9 L347.2 282.3 L347.9 287.7 L350.6 290.3 L355.9 291.7 L361.3 289.7 L366.7 287.7 L373.4 287.0 L378.8 288.3 L382.9 291.0 L386.9 289.0 L395.0 287.0 L399.0 287.7 L405.7 285.6 L412.5 283.6 L419.2 282.0 L425.9 280.9 L431.3 279.8"/>
<path d="M476.1 278.3 L481.9 282.7 L487.6 288.4 L484.5 296.2 L481.2 304.6 L475.1 314.7 L471.1 324.1 L472.4 328.1 L477.8 330.8 L475.5 336.5"/>
<path d="M542.5 554.0 L537.4 558.4 L528.9 556.7 L527.3 568.5"/>
<path d="M528.9 585.3 L532.3 595.4 L539.0 605.5 L537.4 612.2 L530.6 618.9 L528.9 629.0 L527.3 639.1 L530.6 647.5 L527.3 654.3"/>
<path d="M497.6 223.9 L498.7 223.8 L503.7 235.6 L508.8 240.6 L515.5 245.7 L523.9 257.5 L530.6 260.8 L535.7 261.5 L534.7 270.9 L531.6 277.7 L533.0 282.7 L530.6 289.4 L535.7 292.8 L544.1 287.7 L549.1 296.2 L554.2 304.6 L559.2 311.3 L564.3 318.0 L567.6 324.1 L576.0 322.1 L584.5 321.4 L594.6 320.4 L601.3 314.7 L604.6 316.3 L609.0 321.4"/>
<path d="M855.6 600.4 L863.3 603.8 L871.8 605.5 L878.5 609.5 L885.2 612.2 L890.1 612.2 L900.2 617.2 L913.6 620.6 L923.7 618.9 L937.2 622.3"/>
<path d="M952.3 618.9 L964.1 617.2 L974.2 622.3 L980.9 625.0 L989.3 625.6"/>
<path d="M889.5 363.2 L890.3 364.1 L900.4 370.2 L912.1 368.5 L922.2 370.8 L930.6 374.2"/>
<path d="M918.2 195.9 L919.5 207.0 L921.5 220.5 L924.9 230.6 L928.3 242.3 L929.6 254.1 L931.6 267.6 L933.0 279.3 L928.9 287.7 L935.0 295.1 L936.3 297.8"/>
<path d="M935.0 350.0 L932.3 356.7 L935.7 363.4 L932.3 371.9 L931.6 374.2 L937.4 381.9 L940.7 393.7 L945.8 405.5 L949.1 418.9 L951.8 430.7 L955.9 439.1 L960.9 447.5 L967.6 450.9 L966.0 459.3 L969.3 452.4 L967.6 460.8 L972.7 467.6 L976.7 470.9 L976.4 471.8"/>
<path d="M989.3 671.1 L995.4 680.0 L999.5 690.1 L1000.5 700.2 L997.4 710.3 L997.4 720.4 L995.4 728.4 L994.4 733.5"/>
<path d="M1029.1 260.6 L1028.1 268.6 L1028.1 276.7 L1023.0 280.7 L1020.0 282.8 L1016.4 286.1 L1016.4 296.2 L1019.8 304.6 L1018.1 313.0 L1026.5 319.7 L1034.9 326.4 L1045.0 334.8 L1051.7 341.6 L1053.4 350.0"/>
<path d="M1053.4 350.0 L1055.1 361.8 L1058.5 368.5 L1066.9 375.2 L1071.9 380.3 L1075.3 390.4 L1072.9 400.4 L1066.4 405.0 L1057.3 408.1 L1056.3 414.1 L1057.3 420.2 L1053.3 428.3 L1048.3 432.3 L1046.2 438.4 L1046.2 448.4 L1050.3 456.5 L1057.3 463.6 L1063.4 468.6 L1065.4 475.7 L1070.5 477.7 L1076.5 479.7 L1075.5 486.8 L1071.5 493.9 L1074.5 498.9 L1082.6 505.0 L1089.6 511.0 L1092.7 518.1 L1091.7 524.1 L1095.7 529.2 L1099.7 532.2 L1098.7 539.3 L1095.7 544.3 L1090.6 545.3 L1089.6 551.4 L1086.6 559.5 L1084.6 565.5 L1080.6 573.6 L1077.5 577.6"/>
<path d="M1071.8 592.0 L1063.3 602.1 L1054.9 613.9"/>
<path d="M1053.3 629.0 L1054.3 643.1 L1054.9 654.2 L1058.3 662.6 L1051.6 671.1 L1046.5 681.2 L1044.2 691.2 L1044.8 699.7"/>
<path d="M1085.2 699.7 L1084.5 709.7 L1086.9 721.5 L1088.6 724.9"/>
<path d="M1074.5 264.2 L1078.5 269.6 L1090.6 273.7 L1104.8 277.7 L1116.9 280.7 L1122.9 284.8 L1126.0 289.8 L1127.0 296.9 L1131.0 298.9 L1133.0 304.0"/>
<path d="M1135.5 466.6 L1133.0 470.6 L1135.1 474.7 L1136.1 480.7 L1133.0 486.8 L1129.0 492.9 L1125.0 498.9 L1122.9 506.0"/>
<path d="M1099.7 532.2 L1102.8 526.2 L1108.8 527.2 L1113.9 529.2 L1114.9 523.1 L1116.9 519.1 L1122.9 518.1 L1121.9 512.0 L1124.0 506.0 L1133.0 505.0 L1139.1 507.0 L1145.1 509.0 L1151.2 505.0 L1155.2 507.0 L1159.3 500.9 L1163.3 498.9 L1168.4 504.0 L1173.4 498.9 L1177.4 494.9 L1181.5 488.8 L1183.5 483.8 L1189.6 481.7 L1195.6 480.7 L1196.6 473.7 L1202.7 472.7 L1208.7 478.7 L1216.8 481.7 L1224.9 483.8 L1231.9 484.8 L1238.0 482.8 L1243.0 488.8 L1248.1 489.8 L1245.4 492.9 L1250.5 488.8 L1254.5 480.7 L1258.5 475.7 L1264.6 472.7 L1268.6 465.6 L1274.7 461.6 L1280.7 457.5 L1284.8 450.5 L1287.8 440.4 L1288.8 430.3 L1291.8 424.2"/>
<path d="M1075.5 544.9 L1078.5 550.4 L1070.9 560.1 L1085.0 560.5"/>
<path d="M1245.4 492.9 L1244.4 500.9 L1248.4 509.0 L1254.5 516.1 L1259.5 520.1 L1252.5 523.1 L1244.4 529.2 L1236.3 535.2 L1228.3 540.3 L1220.2 542.5"/>
<path d="M1259.5 520.1 L1264.6 523.1 L1270.6 523.5 L1277.7 521.1 L1284.8 520.1 L1290.8 517.1 L1296.9 515.1 L1299.9 509.0 L1302.9 502.9 L1307.0 496.9 L1310.0 490.8 L1312.0 486.8 L1317.1 490.8 L1321.1 488.8 L1325.1 481.7 L1331.2 476.7 L1335.2 472.7 L1339.3 466.6 L1341.3 460.6 L1350.4 471.7 L1356.4 469.6"/>
<path d="M1314.0 469.6 L1321.1 464.6 L1329.2 460.6 L1335.2 457.5 L1341.3 458.5 L1345.3 457.1 L1350.4 459.5 L1353.4 464.6 L1356.4 469.6 L1361.5 470.6 L1367.5 475.7 L1372.6 478.7 L1369.6 484.8 L1364.5 488.8 L1365.5 494.9 L1371.6 495.9 L1377.6 498.9 L1382.7 501.9 L1387.7 507.0 L1393.8 513.0"/>
<path d="M1266.6 543.7 L1264.6 549.4 L1258.5 554.4 L1250.5 559.5 L1240.4 563.5 L1230.3 569.6 L1220.2 574.6 L1210.1 580.1 L1206.2 585.3"/>
<path d="M1189.5 659.3 L1191.2 669.4 L1188.8 682.8 L1191.2 696.3 L1192.9 706.4"/>
<path d="M1255.1 711.4 L1256.1 718.2 L1260.2 706.4 L1270.2 708.1"/>
<path d="M1233.4 586.0 L1229.9 592.0 L1240.0 602.1"/>
<path d="M1277.0 657.6 L1279.2 667.7 L1284.3 664.3"/>
<path d="M1408.8 391.5 L1413.9 397.2 L1415.9 404.2 L1419.9 409.3 L1416.9 416.3 L1412.9 422.4 L1410.8 429.5 L1414.9 435.5 L1420.9 441.6 L1418.9 446.6 L1412.9 450.6 L1406.8 453.7 L1404.8 455.7"/>
<path d="M1404.8 453.7 L1400.7 455.1 L1399.7 457.7"/>
<path d="M1452.1 307.1 L1450.7 318.4 L1449.4 329.2"/>
<path d="M1492.4 307.1 L1489.7 318.4 L1483.0 326.5 L1477.6 339.9 L1473.6 350.7 L1472.2 361.5 L1469.6 370.9"/>
<path d="M1507.2 361.5 L1508.6 368.2 L1511.3 369.6"/>
<path d="M1499.2 370.4 L1505.9 365.5 L1509.9 368.2"/>
<path d="M1487.6 390.5 L1496.5 391.6 L1499.2 400.5"/>
</g>
<path d="M341.1 206.9 L344.5 208.5 L347.2 206.9" stroke-width="7"/>
<path d="M350.6 204.9 L352.2 215.0 L353.5 224.4 L353.0 236.5 L349.9 244.6 L345.2 248.0" stroke-width="6"/>
<path d="M343.8 236.5 L347.2 239.9 L349.2 243.2" stroke-width="5"/>
<path d="M355.3 219.0 L358.0 223.7 L355.9 231.1" stroke-width="5"/>
<path d="M353.2 205.6 L355.9 212.3" stroke-width="5"/>
<path d="M353.6 499.1 L360.1 504.1 L362.2 513.7 L364.7 518.8" stroke-width="6"/>
<path d="M357.6 501.6 L356.1 511.2 L359.4 517.5" stroke-width="5"/>
<path d="M1508.3 410.0 L1513.0 409.0 L1518.1 408.4" stroke-width="6"/>
<path d="M1521.8 410.1 L1525.1 412.8 L1528.8 410.4" stroke-width="6"/>
<path d="M1517.3 398.5 L1522.5 398.5 L1527.8 399.3" stroke-width="5"/>
<path d="M1494.2 403.0 L1498.9 400.3 L1500.9 403.0" stroke-width="5"/>
<path d="M1241.9 785.4 L1247.3 789.8" stroke-width="8"/>
<path d="M1253.0 813.4 L1257.4 816.7" stroke-width="6"/>
<path d="M1277.6 859.5 L1282.6 861.1" stroke-width="6"/>
<path d="M1416.9 477.9 L1414.5 470.8 L1410.4 465.8 L1406.4 460.7 L1404.8 455.1" stroke-width="3.5"/>
<path d="M1404.8 455.1 L1403.8 464.8 L1405.8 471.8 L1408.8 477.9 L1412.9 482.9 L1414.9 489.0" stroke-width="3.5"/>
<path d="M1393.3 459.1 L1389.2 461.1 L1385.2 465.2 L1380.2 468.2 L1379.1 470.2 L1381.2 473.3 L1380.2 480.3 L1379.1 488.4 L1380.2 492.4 L1384.2 496.5 L1386.2 500.5 L1387.2 508.6 L1386.2 516.7 L1387.2 522.7 L1385.6 530.0 L1390.6 533.8 L1393.7 533.4" stroke-width="4"/>
<path d="M1395.3 459.1 L1392.3 463.2 L1390.2 468.2 L1391.3 474.3 L1390.2 480.3 L1392.3 486.4 L1390.2 490.4 L1393.3 494.4 L1396.3 498.5 L1395.3 504.5 L1394.3 510.6 L1393.3 516.7 L1390.6 523.7 L1392.3 530.4 L1394.7 529.4" stroke-width="4"/>
<path d="M1371.5 506.2 L1376.5 511.2 L1382.6 517.3 L1386.2 521.3" stroke-width="4"/>
<path d="M1374.1 519.3 L1380.6 524.3 L1385.6 528.4" stroke-width="4"/>
<path d="M1370.5 526.3 L1377.5 528.4 L1383.6 531.0" stroke-width="4"/>
<path d="M1381.6 501.1 L1385.6 501.1" stroke-width="4"/>
<path d="M1376.1 550.3 L1378.1 560.4 L1389.2 559.4 L1393.6 563.4" stroke-width="4.5"/>
<path d="M1370.0 574.5 L1381.1 573.5 L1391.2 570.5" stroke-width="4.5"/>
<path d="M1369.0 584.6 L1377.1 588.6 L1385.6 589.0" stroke-width="4.5"/>
<path d="M1381.1 563.4 L1391.2 566.0 L1389.2 572.9" stroke-width="4"/>
<path d="M1359.9 595.7 L1365.0 597.7" stroke-width="4"/>
<path d="M1071.1 721.5 L1078.5 717.1 L1087.9 721.5 L1082.5 727.2 L1073.8 725.6 L1071.1 721.5" stroke-width="3.5"/>
<path d="M1090.3 740.0 L1097.0 747.4 L1101.4 754.2" stroke-width="4"/>
<path d="M973.2 732.9 L969.2 737.5 L971.2 740.6" stroke-width="5"/>
<path d="M926.8 763.8 L934.9 762.8 L940.9 761.7" stroke-width="5"/>
<path d="M928.8 768.8 L930.8 765.8" stroke-width="4.5"/>
<path d="M910.6 787.0 L914.7 785.0" stroke-width="4.5"/>
<path d="M905.6 801.1 L909.6 799.1 L910.6 803.1" stroke-width="5"/>
<path d="M919.7 774.9 L922.8 771.8" stroke-width="4.5"/>
<path d="M1179.1 306.0 L1180.7 313.0" stroke-width="6"/>
<path d="M1147.2 282.8 L1153.2 283.2 L1158.3 283.8" stroke-width="5"/>
<path d="M1280.3 670.0 L1285.0 663.3" stroke-width="4.5"/>
<path d="M1296.1 655.9 L1301.1 651.9" stroke-width="4.5"/>
<path d="M1319.6 635.1 L1323.0 631.7" stroke-width="4.5"/>
</g>
<text class="t" x="951" y="57.2" text-anchor="middle" font-size="33.6" font-weight="bold">Tomato leafminer: Degree day (DD) accumulation 04/07/2026</text>
<text class="t" x="951" y="107.9" text-anchor="middle" font-size="27.1">Maps and modeling 04/07/2026 by Oregon State University IPPC USPEST.ORG and</text>
<text class="t" x="951" y="140.1" text-anchor="middle" font-size="27.1">USDA-APHIS-PPQ; climate data from OSU PRISM Climate Group</text>
<text class="t" x="1639" y="409" font-size="25.95" font-weight="bold">Degree Days</text>
<rect x="1639" y="422.0" width="25" height="25.6" fill="#5E4FA2"/>
<text class="l" x="1676" y="442.2" font-size="20.5" letter-spacing="0.6">0-142</text>
<rect x="1639" y="447.5" width="25" height="25.6" fill="#3288BD"/>
<text class="l" x="1676" y="467.7" font-size="20.5" letter-spacing="0.6">142-284</text>
<rect x="1639" y="473.0" width="25" height="25.6" fill="#66C2A5"/>
<text class="l" x="1676" y="493.2" font-size="20.5" letter-spacing="0.6">284-426</text>
<rect x="1639" y="498.5" width="25" height="25.6" fill="#ABDDA4"/>
<text class="l" x="1676" y="518.7" font-size="20.5" letter-spacing="0.6">426-568</text>
<rect x="1639" y="524.0" width="25" height="25.6" fill="#E6F598"/>
<text class="l" x="1676" y="544.2" font-size="20.5" letter-spacing="0.6">568-710</text>
<rect x="1639" y="549.5" width="25" height="25.6" fill="#FEE08B"/>
<text class="l" x="1676" y="569.7" font-size="20.5" letter-spacing="0.6">710-852</text>
<rect x="1639" y="575.0" width="25" height="25.6" fill="#FDAE61"/>
<text class="l" x="1676" y="595.2" font-size="20.5" letter-spacing="0.6">852-994</text>
<rect x="1639" y="600.5" width="25" height="25.6" fill="#F46D43"/>
<text class="l" x="1676" y="620.7" font-size="20.5" letter-spacing="0.6">994-1140</text>
<rect x="1639" y="626.0" width="25" height="25.6" fill="#D53E4F"/>
<text class="l" x="1676" y="646.2" font-size="20.5" letter-spacing="0.6">1140-1280</text>
<rect x="1639" y="651.5" width="25" height="25.6" fill="#9E0142"/>
<text class="l" x="1676" y="671.7" font-size="20.5" letter-spacing="0.6">1280-1420</text>
</svg></body></html>
